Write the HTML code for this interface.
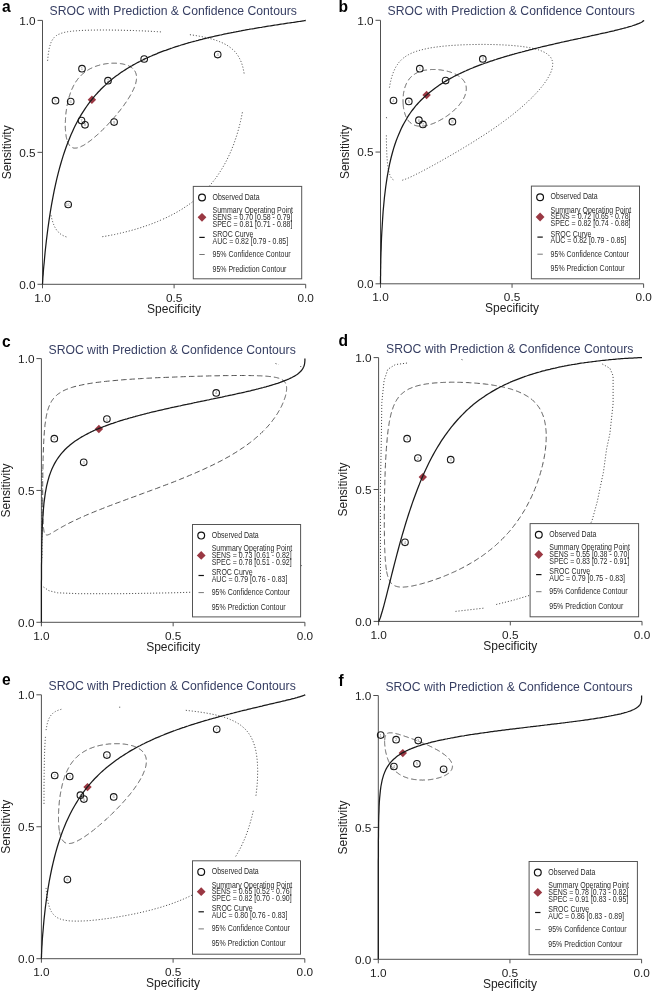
<!DOCTYPE html>
<html><head><meta charset="utf-8"><style>
html,body{margin:0;padding:0;background:#fff;width:652px;height:991px;overflow:hidden}
svg{display:block;will-change:transform} text{font-family:"Liberation Sans",sans-serif}
</style></head><body>
<svg width="652" height="991" viewBox="0 0 652 991">
<rect width="652" height="991" fill="#fff"/>
<g stroke="#505050" stroke-width="1" fill="none">
<path d="M42.5,20.4 L42.5,288.3 M37.5,284.3 L305.7,284.3 L305.7,288.3 M174.1,284.3 L174.1,288.3 M37.5,20.4 L42.5,20.4 M37.5,152.35 L42.5,152.35"/>
</g>
<g font-size="11.8" fill="#222">
<text x="35.6" y="24.7" text-anchor="end">1.0</text>
<text x="35.6" y="156.65" text-anchor="end">0.5</text>
<text x="35.6" y="288.6" text-anchor="end">0.0</text>
<text x="42.5" y="301.7" text-anchor="middle">1.0</text>
<text x="174.1" y="301.7" text-anchor="middle">0.5</text>
<text x="305.7" y="301.7" text-anchor="middle">0.0</text>
</g>
<text font-size="12" fill="#222" x="174.1" y="312.6" text-anchor="middle">Specificity</text>
<text font-size="12" fill="#222" transform="translate(11.100000000000001,152.35) rotate(-90)" text-anchor="middle">Sensitivity</text>
<text font-size="12.2" fill="#363e62" x="49.6" y="15.299999999999999">SROC with Prediction &amp; Confidence Contours</text>
<text font-size="15.6" font-weight="bold" fill="#000" x="1.9" y="11.8">a</text>
<path d="M47.6,60.8 L47.7,59.9 L47.8,59.2 L47.8,58.4 L47.9,57.6 L48.0,56.9 L48.1,56.2 L48.2,55.5 L48.2,54.8 L48.3,54.1 L48.4,53.4 L48.5,52.8 L48.6,52.1 L48.7,51.5 L48.8,50.9 L48.9,50.3 L49.0,49.8 L49.1,49.2 L49.2,48.6 L49.3,48.1 L49.4,47.6 L49.6,47.1 L49.7,46.6 L49.8,46.1 L50.0,45.6 L50.1,45.1 L50.2,44.7 L50.4,44.2 L50.5,43.8 L50.7,43.4 L50.8,42.9 L51.0,42.5 L51.2,42.1 L51.3,41.8 L51.5,41.4 L51.7,41.0 L51.9,40.7 L52.1,40.3 L52.3,40.0 L52.5,39.7 L52.7,39.3 L52.9,39.0 L53.2,38.7 L53.4,38.4 L53.6,38.1 L53.9,37.8 L54.1,37.6 L54.4,37.3 L54.7,37.0 L54.9,36.8 L55.2,36.5 L55.5,36.3 L55.8,36.1 L56.1,35.8 L56.4,35.6 L56.7,35.4 L57.1,35.2 L57.4,35.0 L57.8,34.8 L58.1,34.6 L58.5,34.4 L58.9,34.2 L59.3,34.1 L59.7,33.9 L60.1,33.7 L60.6,33.6 L61.0,33.4 L61.5,33.2 L61.9,33.1 L62.4,33.0 L62.9,32.8 L63.4,32.7 L63.9,32.5 L64.4,32.4 L65.0,32.3 L65.5,32.2 L66.1,32.1 L66.7,32.0 L67.3,31.8 L67.9,31.7 L68.6,31.6 L69.2,31.5 L69.9,31.4 L70.6,31.4 L71.3,31.3 L72.0,31.2 L72.7,31.1 L73.5,31.0 L74.2,31.0 L75.0,30.9 L75.8,30.8 L76.7,30.8 L77.5,30.7 L78.4,30.6 L79.2,30.6 L80.1,30.5 L81.1,30.5 L82.0,30.4 L83.0,30.4 L83.9,30.3 L84.9,30.3 L85.9,30.3 L87.0,30.2 L88.0,30.2 L89.1,30.2 L90.2,30.1 L91.3,30.1 L92.5,30.1 L93.6,30.1 L94.8,30.1 L96.0,30.0 L97.2,30.0 L98.5,30.0 L99.7,30.0 L101.0,30.0 L102.3,30.0 L103.6,30.0 L104.9,30.0 L106.3,30.0 L107.6,30.0 L109.0,30.0 L110.4,30.0 L111.9,30.1 L113.3,30.1 L114.7,30.1 L116.2,30.1 L117.7,30.1 L119.2,30.2 L120.7,30.2 L122.2,30.2 L123.7,30.3 L125.3,30.3 L126.8,30.4 L128.4,30.4 L130.0,30.4 L131.6,30.5 L133.2,30.5 L134.8,30.6 L136.4,30.7 L138.0,30.7 L139.6,30.8 L141.2,30.8 L142.9,30.9 L144.5,31.0 L146.1,31.1 L147.8,31.1 L149.4,31.2 L151.0,31.3 L152.7,31.4 L154.3,31.5 L156.0,31.6 L157.6,31.7 L159.2,31.8 L160.8,31.9 L162.5,32.0 M189.9,34.7 L191.3,34.9 L192.7,35.1 L194.1,35.3 L195.4,35.5 L196.7,35.7 L198.1,36.0 L199.3,36.2 L200.6,36.4 L201.9,36.7 L203.1,36.9 L204.3,37.2 L205.5,37.4 L206.7,37.7 L207.9,38.0 L209.0,38.3 L210.2,38.6 L211.3,38.9 L212.4,39.2 L213.4,39.5 L214.5,39.8 L215.5,40.1 L216.5,40.5 L217.5,40.8 L218.5,41.2 L219.4,41.6 L220.3,41.9 L221.3,42.3 L222.1,42.7 L223.0,43.1 L223.9,43.6 L224.7,44.0 L225.5,44.4 L226.3,44.9 L227.1,45.3 L227.9,45.8 L228.6,46.3 L229.3,46.8 L230.0,47.3 L230.7,47.8 L231.4,48.4 L232.0,48.9 L232.7,49.5 L233.3,50.0 L233.9,50.6 L234.5,51.2 L235.0,51.8 L235.6,52.5 L236.1,53.1 L236.6,53.7 L237.1,54.4 L237.6,55.1 L238.0,55.8 L238.5,56.5 L238.9,57.2 L239.3,58.0 L239.7,58.8 L240.1,59.5 L240.5,60.3 L240.8,61.1 L241.2,62.0 L241.5,62.8 L241.8,63.7 L242.1,64.6 L242.4,65.5 L242.6,66.4 L242.9,67.3 L243.1,68.3 L243.3,69.2 L243.5,70.2 L243.7,71.2 L243.9,72.2 L244.1,73.3 L244.2,74.3 M242.4,112.3 L242.1,113.8 L241.8,115.3 L241.5,116.9 L241.2,118.4 L240.8,120.0 L240.5,121.5 L240.1,123.1 L239.7,124.7 L239.3,126.3 L238.9,127.9 L238.5,129.4 L238.0,131.0 L237.6,132.6 L237.1,134.2 L236.6,135.8 L236.1,137.4 L235.5,139.0 L235.0,140.6 L234.4,142.2 L233.9,143.8 L233.3,145.4 L232.6,147.0 L232.0,148.6 L231.4,150.1 L230.7,151.7 L230.0,153.3 L229.3,154.8 L228.6,156.4 L227.8,157.9 L227.1,159.5 L226.3,161.0 L225.5,162.5 L224.7,164.0 L223.8,165.5 L223.0,167.0 L222.1,168.5 L221.2,170.0 L220.3,171.4 L219.4,172.9 L218.4,174.3 L217.5,175.7 L216.5,177.1 L215.5,178.5 L214.4,179.8 L213.4,181.2 L212.3,182.5 L211.2,183.9 L210.1,185.2 L209.0,186.5 L207.9,187.7 L206.7,189.0 L205.5,190.2 L204.3,191.5 L203.1,192.7 L201.9,193.9 L200.6,195.0 L199.3,196.2 L198.0,197.3 L196.7,198.4 L195.4,199.6 L194.0,200.6 L192.7,201.7 L191.3,202.8 L189.9,203.8 L188.5,204.8 L187.0,205.8 L185.6,206.8 L184.1,207.7 L182.7,208.7 L181.2,209.6 L179.7,210.5 L178.2,211.4 L176.6,212.3 L175.1,213.2 L173.5,214.0 L172.0,214.8 L170.4,215.6 L168.8,216.4 L167.2,217.2 L165.6,218.0 L164.0,218.7 L162.4,219.4 M51.0,215.3 L51.2,216.1 L51.3,216.8 L51.5,217.6 L51.7,218.4 L51.9,219.1 L52.1,219.8 L52.3,220.5 L52.5,221.2 L52.7,221.9 L52.9,222.5 L53.1,223.2 L53.4,223.8 L53.6,224.4 L53.9,225.0 L54.1,225.6 L54.4,226.1 L54.6,226.7 L54.9,227.2 L55.2,227.7 L55.5,228.3 L55.8,228.7 L56.1,229.2 L56.4,229.7 L56.7,230.2 L57.1,230.6 L57.4,231.0 L57.8,231.4 L58.1,231.8 L58.5,232.2 L58.9,232.6 L59.3,233.0 L59.7,233.3 L60.1,233.7 L60.5,234.0 L61.0,234.3 L61.4,234.6 L61.9,234.9 L62.4,235.2 L62.9,235.5 L63.4,235.7 L63.9,236.0 L64.4,236.2 L65.0,236.4 L65.5,236.6 L66.1,236.8 L66.7,237.0 L67.3,237.2 L67.9,237.4 M102.3,236.7 L103.6,236.5 L104.9,236.3 L106.2,236.1 L107.6,235.8 L109.0,235.6 L110.4,235.3 L111.8,235.0 L113.3,234.8 L114.7,234.5 L116.2,234.1 L117.6,233.8 L119.1,233.5 L120.6,233.1 L122.2,232.8 L123.7,232.4 L125.2,232.0 L126.8,231.6 L128.4,231.2 L129.9,230.8 L131.5,230.4 L133.1,229.9 L134.7,229.5 L136.3,229.0 L138.0,228.5 L139.6,228.0 L141.2,227.5 L142.8,226.9 L144.5,226.4 L146.1,225.8 L147.7,225.3 L149.4,224.7 L151.0,224.1 L152.6,223.5 L154.3,222.8 L155.9,222.2 L157.6,221.5 L159.2,220.8 L160.8,220.1 L162.4,219.4" fill="none" stroke="#444" stroke-width="0.95" stroke-dasharray="1.1 1.9" />
<path d="M66.9,139.6 L66.8,139.3 L66.7,139.0 L66.6,138.7 L66.6,138.4 L66.5,138.1 L66.4,137.8 L66.4,137.4 L66.3,137.1 L66.2,136.8 L66.2,136.4 L66.1,136.1 L66.1,135.7 L66.0,135.4 L65.9,135.0 L65.9,134.7 L65.9,134.3 L65.8,133.9 L65.8,133.6 L65.7,133.2 L65.7,132.8 L65.6,132.4 L65.6,132.1 L65.6,131.7 L65.5,131.3 L65.5,130.9 L65.5,130.5 L65.5,130.1 L65.4,129.7 L65.4,129.3 L65.4,128.9 L65.4,128.4 L65.4,128.0 L65.3,127.6 L65.3,127.2 L65.3,126.8 L65.3,126.3 L65.3,125.9 L65.3,125.5 L65.3,125.0 L65.3,124.6 L65.3,124.1 L65.3,123.7 L65.3,123.3 L65.3,122.8 L65.3,122.4 L65.4,121.9 L65.4,121.5 L65.4,121.0 L65.4,120.5 L65.4,120.1 L65.5,119.6 L65.5,119.2 L65.5,118.7 L65.5,118.2 L65.6,117.8 L65.6,117.3 L65.6,116.8 L65.7,116.4 L65.7,115.9 L65.8,115.4 L65.8,115.0 L65.8,114.5 L65.9,114.0 L65.9,113.5 L66.0,113.1 L66.0,112.6 L66.1,112.1 L66.2,111.6 L66.2,111.2 L66.3,110.7 L66.4,110.2 L66.4,109.7 L66.5,109.3 L66.6,108.8 L66.6,108.3 L66.7,107.8 L66.8,107.4 L66.9,106.9 L67.0,106.4 L67.0,105.9 L67.1,105.5 L67.2,105.0 L67.3,104.5 L67.4,104.1 L67.5,103.6 L67.6,103.1 L67.7,102.7 L67.8,102.2 L67.9,101.7 L68.0,101.3 L68.1,100.8 L68.2,100.3 L68.3,99.9 L68.5,99.4 L68.6,99.0 L68.7,98.5 L68.8,98.0 L69.0,97.6 L69.1,97.1 L69.2,96.7 L69.3,96.2 L69.5,95.8 L69.6,95.4 L69.8,94.9 L69.9,94.5 L70.1,94.0 L70.2,93.6 L70.4,93.2 L70.5,92.7 L70.7,92.3 L70.8,91.9 L71.0,91.5 L71.2,91.0 L71.3,90.6 L71.5,90.2 L71.7,89.8 L71.8,89.4 L72.0,89.0 L72.2,88.6 L72.4,88.2 L72.6,87.8 L72.8,87.4 L72.9,87.0 L73.1,86.6 L73.3,86.2 L73.5,85.8 L73.7,85.4 L73.9,85.0 L74.1,84.7 L74.4,84.3 L74.6,83.9 L74.8,83.5 L75.0,83.2 L75.2,82.8 L75.5,82.5 L75.7,82.1 L75.9,81.7 L76.1,81.4 L76.4,81.1 L76.6,80.7 L76.9,80.4 L77.1,80.0 L77.3,79.7 L77.6,79.4 L77.9,79.0 L78.1,78.7 L78.4,78.4 L78.6,78.1 L78.9,77.8 L79.2,77.5 L79.4,77.1 L79.7,76.8 L80.0,76.5 L80.3,76.2 L80.5,76.0 L80.8,75.7 L81.1,75.4 L81.4,75.1 L81.7,74.8 L82.0,74.5 L82.3,74.3 L82.6,74.0 L82.9,73.7 L83.2,73.5 L83.5,73.2 L83.8,72.9 L84.1,72.7 L84.5,72.4 L84.8,72.2 L85.1,72.0 L85.4,71.7 L85.8,71.5 L86.1,71.2 L86.4,71.0 L86.8,70.8 L87.1,70.6 L87.4,70.4 L87.8,70.1 L88.1,69.9 L88.5,69.7 L88.8,69.5 L89.2,69.3 L89.5,69.1 L89.9,68.9 L90.3,68.7 L90.6,68.5 L91.0,68.4 L91.4,68.2 L91.7,68.0 L92.1,67.8 L92.5,67.6 L92.8,67.5 L93.2,67.3 L93.6,67.2 L94.0,67.0 L94.4,66.8 L94.8,66.7 L95.1,66.5 L95.5,66.4 L95.9,66.3 L96.3,66.1 L96.7,66.0 L97.1,65.8 L97.5,65.7 L97.9,65.6 L98.3,65.5 L98.7,65.4 L99.1,65.2 L99.5,65.1 L99.9,65.0 L100.3,64.9 L100.7,64.8 L101.1,64.7 L101.6,64.6 L102.0,64.5 L102.4,64.4 L102.8,64.3 L103.2,64.3 L103.6,64.2 L104.0,64.1 L104.4,64.0 L104.9,64.0 L105.3,63.9 L105.7,63.8 L106.1,63.8 L106.5,63.7 L106.9,63.6 L107.4,63.6 L107.8,63.5 L108.2,63.5 L108.6,63.5 L109.0,63.4 L109.4,63.4 L109.8,63.4 L110.3,63.3 L110.7,63.3 L111.1,63.3 L111.5,63.2 L111.9,63.2 L112.3,63.2 L112.7,63.2 L113.1,63.2 L113.5,63.2 L113.9,63.2 L114.3,63.2 L114.7,63.2 L115.1,63.2 L115.5,63.2 L115.9,63.2 L116.3,63.2 L116.7,63.3 L117.1,63.3 L117.5,63.3 L117.9,63.3 L118.3,63.4 L118.7,63.4 L119.0,63.4 L119.4,63.5 L119.8,63.5 L120.2,63.6 L120.5,63.6 L120.9,63.7 L121.3,63.7 L121.6,63.8 L122.0,63.9 L122.4,63.9 L122.7,64.0 L123.1,64.1 L123.4,64.2 L123.8,64.2 L124.1,64.3 L124.4,64.4 L124.8,64.5 L125.1,64.6 L125.4,64.7 L125.8,64.8 L126.1,64.9 L126.4,65.0 L126.7,65.1 L127.0,65.2 L127.3,65.3 L127.6,65.4 L127.9,65.6 L128.2,65.7 L128.5,65.8 L128.8,65.9 L129.1,66.1 L129.3,66.2 L129.6,66.4 L129.9,66.5 L130.1,66.6 L130.4,66.8 L130.6,67.0 L130.9,67.1 L131.1,67.3 L131.4,67.4 L131.6,67.6 L131.8,67.8 L132.1,67.9 L132.3,68.1 L132.5,68.3 L132.7,68.5 L132.9,68.7 L133.1,68.9 L133.3,69.1 L133.5,69.3 L133.7,69.5 L133.8,69.7 L134.0,69.9 L134.2,70.1 L134.3,70.3 L134.5,70.5 L134.6,70.7 L134.8,71.0 L134.9,71.2 L135.1,71.4 L135.2,71.7 L135.3,71.9 L135.4,72.1 L135.5,72.4 L135.6,72.6 L135.7,72.9 L135.8,73.1 L135.9,73.4 L136.0,73.7 L136.1,73.9 L136.1,74.2 L136.2,74.5 L136.3,74.7 L136.3,75.0 L136.4,75.3 L136.4,75.6 L136.5,75.9 L136.5,76.2 L136.5,76.5 L136.5,76.8 L136.5,77.1 L136.5,77.4 L136.5,77.7 L136.5,78.0 L136.5,78.3 L136.5,78.6 L136.5,79.0 L136.5,79.3 L136.4,79.6 L136.4,79.9 L136.3,80.3 L136.3,80.6 L136.2,81.0 L136.2,81.3 L136.1,81.7 L136.0,82.0 L135.9,82.4 L135.8,82.7 L135.8,83.1 L135.7,83.5 L135.5,83.8 L135.4,84.2 L135.3,84.6 L135.2,84.9 L135.1,85.3 L134.9,85.7 L134.8,86.1 L134.7,86.5 L134.5,86.9 L134.4,87.3 L134.2,87.7 L134.0,88.1 L133.9,88.5 L133.7,88.9 L133.5,89.3 L133.3,89.7 L133.1,90.1 L132.9,90.5 L132.7,90.9 L132.5,91.4 L132.3,91.8 L132.1,92.2 L131.9,92.6 L131.6,93.1 L131.4,93.5 L131.2,93.9 L130.9,94.4 L130.7,94.8 L130.4,95.2 L130.2,95.7 L129.9,96.1 L129.6,96.6 L129.4,97.0 L129.1,97.5 L128.8,97.9 L128.5,98.4 L128.2,98.8 L128.0,99.3 L127.7,99.8 L127.4,100.2 L127.1,100.7 L126.7,101.1 L126.4,101.6 L126.1,102.1 L125.8,102.5 L125.5,103.0 L125.1,103.5 L124.8,103.9 L124.5,104.4 L124.1,104.9 L123.8,105.4 L123.5,105.8 L123.1,106.3 L122.8,106.8 L122.4,107.2 L122.1,107.7 L121.7,108.2 L121.3,108.7 L121.0,109.1 L120.6,109.6 L120.2,110.1 L119.9,110.6 L119.5,111.0 L119.1,111.5 L118.7,112.0 L118.3,112.5 L117.9,112.9 L117.6,113.4 L117.2,113.9 L116.8,114.4 L116.4,114.8 L116.0,115.3 L115.6,115.8 L115.2,116.3 L114.8,116.7 L114.4,117.2 L114.0,117.7 L113.6,118.1 L113.2,118.6 L112.8,119.1 L112.4,119.5 L112.0,120.0 L111.5,120.4 L111.1,120.9 L110.7,121.3 L110.3,121.8 L109.9,122.2 L109.5,122.7 L109.1,123.1 L108.7,123.6 L108.2,124.0 L107.8,124.5 L107.4,124.9 L107.0,125.3 L106.6,125.8 L106.2,126.2 L105.7,126.6 L105.3,127.1 L104.9,127.5 L104.5,127.9 L104.1,128.3 L103.7,128.7 L103.3,129.2 L102.8,129.6 L102.4,130.0 L102.0,130.4 L101.6,130.8 L101.2,131.2 L100.8,131.6 L100.4,132.0 L100.0,132.3 L99.6,132.7 L99.2,133.1 L98.8,133.5 L98.4,133.8 L98.0,134.2 L97.6,134.6 L97.2,134.9 L96.8,135.3 L96.4,135.6 L96.0,136.0 L95.6,136.3 L95.2,136.7 L94.8,137.0 L94.4,137.3 L94.0,137.7 L93.7,138.0 L93.3,138.3 L92.9,138.6 L92.5,138.9 L92.2,139.2 L91.8,139.5 L91.4,139.8 L91.0,140.1 L90.7,140.4 L90.3,140.7 L89.9,141.0 L89.6,141.2 L89.2,141.5 L88.9,141.8 L88.5,142.0 L88.2,142.3 L87.8,142.5 L87.5,142.8 L87.1,143.0 L86.8,143.2 L86.5,143.5 L86.1,143.7 L85.8,143.9 L85.5,144.1 L85.1,144.3 L84.8,144.5 L84.5,144.7 L84.2,144.9 L83.9,145.1 L83.6,145.3 L83.2,145.5 L82.9,145.6 L82.6,145.8 L82.3,145.9 L82.0,146.1 L81.7,146.2 L81.4,146.4 L81.2,146.5 L80.9,146.7 L80.6,146.8 L80.3,146.9 L80.0,147.0 L79.7,147.1 L79.5,147.2 L79.2,147.3 L78.9,147.4 L78.7,147.5 L78.4,147.6 L78.1,147.7 L77.9,147.7 L77.6,147.8 L77.4,147.8 L77.1,147.9 L76.9,147.9 L76.7,148.0 L76.4,148.0 L76.2,148.1 L75.9,148.1 L75.7,148.1 L75.5,148.1 L75.3,148.1 L75.0,148.1 L74.8,148.1 L74.6,148.1 L74.4,148.1 L74.2,148.1 L74.0,148.0 L73.8,148.0 L73.6,148.0 L73.4,147.9 L73.2,147.9 L73.0,147.8 L72.8,147.7 L72.6,147.7 L72.4,147.6 L72.2,147.5 L72.0,147.4 L71.9,147.3 L71.7,147.3 L71.5,147.2 L71.3,147.0 L71.2,146.9 L71.0,146.8 L70.9,146.7 L70.7,146.6 L70.5,146.4 L70.4,146.3 L70.2,146.1 L70.1,146.0 L69.9,145.8 L69.8,145.7 L69.6,145.5 L69.5,145.3 L69.4,145.1 L69.2,145.0 L69.1,144.8 L69.0,144.6 L68.8,144.4 L68.7,144.2 L68.6,144.0 L68.5,143.7 L68.4,143.5 L68.2,143.3 L68.1,143.1 L68.0,142.8 L67.9,142.6 L67.8,142.3 L67.7,142.1 L67.6,141.8 L67.5,141.6 L67.4,141.3 L67.3,141.0 L67.2,140.8 L67.1,140.5 L67.0,140.2 L67.0,139.9 L66.9,139.6Z" fill="none" stroke="#555" stroke-width="1" stroke-dasharray="5.5 3" />
<circle cx="82.0" cy="68.7" r="3.3" fill="#fff" fill-opacity="0" stroke="#1a1a1a" stroke-width="1.1"/>
<text x="82.0" y="70.2" font-size="4.2" fill="#888" text-anchor="middle">1</text>
<circle cx="108" cy="80.7" r="3.3" fill="#fff" fill-opacity="0" stroke="#1a1a1a" stroke-width="1.1"/>
<text x="108" y="82.2" font-size="4.2" fill="#888" text-anchor="middle">2</text>
<circle cx="144.2" cy="59.0" r="3.3" fill="#fff" fill-opacity="0" stroke="#1a1a1a" stroke-width="1.1"/>
<text x="144.2" y="60.5" font-size="4.2" fill="#888" text-anchor="middle">3</text>
<circle cx="217.7" cy="54.6" r="3.3" fill="#fff" fill-opacity="0" stroke="#1a1a1a" stroke-width="1.1"/>
<text x="217.7" y="56.1" font-size="4.2" fill="#888" text-anchor="middle">4</text>
<circle cx="55.5" cy="100.7" r="3.3" fill="#fff" fill-opacity="0" stroke="#1a1a1a" stroke-width="1.1"/>
<text x="55.5" y="102.2" font-size="4.2" fill="#888" text-anchor="middle">5</text>
<circle cx="70.7" cy="101.5" r="3.3" fill="#fff" fill-opacity="0" stroke="#1a1a1a" stroke-width="1.1"/>
<text x="70.7" y="103.0" font-size="4.2" fill="#888" text-anchor="middle">6</text>
<circle cx="81.5" cy="120.6" r="3.3" fill="#fff" fill-opacity="0" stroke="#1a1a1a" stroke-width="1.1"/>
<text x="81.5" y="122.1" font-size="4.2" fill="#888" text-anchor="middle">7</text>
<circle cx="85" cy="124.8" r="3.3" fill="#fff" fill-opacity="0" stroke="#1a1a1a" stroke-width="1.1"/>
<text x="85" y="126.3" font-size="4.2" fill="#888" text-anchor="middle">8</text>
<circle cx="114.1" cy="122.1" r="3.3" fill="#fff" fill-opacity="0" stroke="#1a1a1a" stroke-width="1.1"/>
<text x="114.1" y="123.6" font-size="4.2" fill="#888" text-anchor="middle">9</text>
<circle cx="68.2" cy="204.5" r="3.3" fill="#fff" fill-opacity="0" stroke="#1a1a1a" stroke-width="1.1"/>
<text x="68.2" y="206.0" font-size="4.2" fill="#888" text-anchor="middle">10</text>
<path d="M91.9,95.5 L96.10000000000001,99.7 L91.9,103.9 L87.7,99.7Z" fill="#9a3843"/>
<path d="M42.5,284.3 L42.5,284.3 L42.5,284.3 L42.5,284.3 L42.5,284.3 L42.5,284.3 L42.5,284.3 L42.5,284.3 L42.5,284.3 L42.5,284.3 L42.5,284.3 L42.5,284.3 L42.5,284.3 L42.5,284.3 L42.5,284.3 L42.5,284.3 L42.5,284.3 L42.5,284.3 L42.5,284.3 L42.5,284.3 L42.5,284.3 L42.5,284.3 L42.5,284.3 L42.5,284.3 L42.5,284.3 L42.5,284.3 L42.5,284.3 L42.5,284.3 L42.5,284.3 L42.5,284.3 L42.5,284.3 L42.5,284.3 L42.5,284.3 L42.5,284.3 L42.5,284.3 L42.5,284.3 L42.5,284.3 L42.5,284.3 L42.5,284.3 L42.5,284.3 L42.5,284.3 L42.5,284.3 L42.5,284.3 L42.5,284.3 L42.5,284.3 L42.5,284.3 L42.5,284.3 L42.5,284.3 L42.5,284.3 L42.5,284.3 L42.5,284.3 L42.5,284.3 L42.5,284.3 L42.5,284.3 L42.5,284.3 L42.5,284.3 L42.5,284.3 L42.5,284.3 L42.5,284.3 L42.5,284.3 L42.5,284.3 L42.5,284.3 L42.5,284.3 L42.5,284.3 L42.5,284.3 L42.5,284.3 L42.5,284.3 L42.5,284.3 L42.5,284.3 L42.5,284.3 L42.5,284.3 L42.5,284.3 L42.5,284.3 L42.5,284.3 L42.5,284.3 L42.5,284.3 L42.5,284.3 L42.5,284.3 L42.5,284.3 L42.5,284.3 L42.5,284.3 L42.5,284.3 L42.5,284.3 L42.5,284.3 L42.5,284.3 L42.5,284.3 L42.5,284.3 L42.5,284.3 L42.5,284.2 L42.5,284.2 L42.5,284.2 L42.5,284.2 L42.5,284.2 L42.5,284.1 L42.5,284.1 L42.5,284.1 L42.5,284.0 L42.5,283.9 L42.5,283.9 L42.5,283.8 L42.5,283.6 L42.5,283.5 L42.6,283.3 L42.6,283.1 L42.6,282.8 L42.6,282.4 L42.6,282.0 L42.7,281.4 L42.7,280.8 L42.8,279.9 L42.8,278.9 L42.9,277.7 L43.0,276.2 L43.2,274.4 L43.3,272.2 L43.5,269.5 L43.8,266.3 L44.2,262.4 L44.6,257.8 L45.1,252.3 L45.1,252.3 L46.4,240.5 L47.7,230.0 L49.0,220.7 L50.3,212.2 L51.6,204.4 L52.9,197.3 L54.2,190.7 L55.5,184.6 L56.8,178.9 L58.1,173.6 L59.4,168.7 L60.7,164.0 L62.0,159.6 L63.3,155.4 L64.6,151.5 L65.9,147.8 L67.2,144.2 L68.5,140.9 L69.8,137.7 L71.1,134.6 L72.4,131.7 L73.6,128.9 L74.9,126.3 L76.2,123.7 L77.5,121.2 L78.8,118.9 L80.1,116.6 L81.4,114.4 L82.7,112.3 L84.0,110.3 L85.3,108.4 L86.6,106.5 L87.9,104.7 L89.2,102.9 L90.5,101.2 L91.8,99.6 L93.1,98.0 L94.4,96.4 L95.7,94.9 L97.0,93.5 L98.3,92.0 L99.6,90.7 L100.9,89.3 L102.2,88.0 L103.5,86.8 L104.8,85.6 L106.1,84.4 L107.3,83.2 L108.6,82.1 L109.9,81.0 L111.2,79.9 L112.5,78.8 L113.8,77.8 L115.1,76.8 L116.4,75.8 L117.7,74.9 L119.0,73.9 L120.3,73.0 L121.6,72.1 L122.9,71.3 L124.2,70.4 L125.5,69.6 L126.8,68.8 L128.1,68.0 L129.4,67.2 L130.7,66.4 L132.0,65.7 L133.3,64.9 L134.6,64.2 L135.9,63.5 L137.2,62.8 L138.5,62.1 L139.8,61.5 L141.0,60.8 L142.3,60.2 L143.6,59.5 L144.9,58.9 L146.2,58.3 L147.5,57.7 L148.8,57.1 L150.1,56.5 L151.4,56.0 L152.7,55.4 L154.0,54.8 L155.3,54.3 L156.6,53.8 L157.9,53.2 L159.2,52.7 L160.5,52.2 L161.8,51.7 L163.1,51.2 L164.4,50.7 L165.7,50.3 L167.0,49.8 L168.3,49.3 L169.6,48.9 L170.9,48.4 L172.2,48.0 L173.5,47.5 L174.7,47.1 L176.0,46.7 L177.3,46.3 L178.6,45.9 L179.9,45.5 L181.2,45.0 L182.5,44.7 L183.8,44.3 L185.1,43.9 L186.4,43.5 L187.7,43.1 L189.0,42.7 L190.3,42.4 L191.6,42.0 L192.9,41.7 L194.2,41.3 L195.5,41.0 L196.8,40.6 L198.1,40.3 L199.4,39.9 L200.7,39.6 L202.0,39.3 L203.3,38.9 L204.6,38.6 L205.9,38.3 L207.2,38.0 L208.4,37.7 L209.7,37.4 L211.0,37.1 L212.3,36.8 L213.6,36.5 L214.9,36.2 L216.2,35.9 L217.5,35.6 L218.8,35.3 L220.1,35.0 L221.4,34.8 L222.7,34.5 L224.0,34.2 L225.3,33.9 L226.6,33.7 L227.9,33.4 L229.2,33.1 L230.5,32.9 L231.8,32.6 L233.1,32.4 L234.4,32.1 L235.7,31.9 L237.0,31.6 L238.3,31.4 L239.6,31.1 L240.9,30.9 L242.1,30.6 L243.4,30.4 L244.7,30.2 L246.0,29.9 L247.3,29.7 L248.6,29.5 L249.9,29.2 L251.2,29.0 L252.5,28.8 L253.8,28.6 L255.1,28.3 L256.4,28.1 L257.7,27.9 L259.0,27.7 L260.3,27.5 L261.6,27.3 L262.9,27.0 L264.2,26.8 L265.5,26.6 L266.8,26.4 L268.1,26.2 L269.4,26.0 L270.7,25.8 L272.0,25.6 L273.3,25.4 L274.6,25.2 L275.8,25.0 L277.1,24.8 L278.4,24.6 L279.7,24.4 L281.0,24.2 L282.3,24.0 L283.6,23.8 L284.9,23.6 L286.2,23.4 L287.5,23.2 L288.8,23.0 L290.1,22.8 L291.4,22.6 L292.7,22.5 L294.0,22.3 L295.3,22.1 L296.6,21.9 L297.9,21.7 L299.2,21.5 L300.5,21.3 L301.8,21.1 L303.1,20.9 L303.1,20.9 L303.7,20.8 L304.1,20.7 L304.4,20.6 L304.7,20.6 L304.9,20.6 L305.1,20.5 L305.2,20.5 L305.3,20.5 L305.4,20.5 L305.4,20.5 L305.5,20.4 L305.5,20.4 L305.6,20.4 L305.6,20.4 L305.6,20.4 L305.6,20.4 L305.7,20.4 L305.7,20.4 L305.7,20.4 L305.7,20.4 L305.7,20.4 L305.7,20.4 L305.7,20.4 L305.7,20.4 L305.7,20.4 L305.7,20.4 L305.7,20.4 L305.7,20.4 L305.7,20.4 L305.7,20.4 L305.7,20.4 L305.7,20.4 L305.7,20.4 L305.7,20.4 L305.7,20.4 L305.7,20.4 L305.7,20.4 L305.7,20.4 L305.7,20.4 L305.7,20.4 L305.7,20.4 L305.7,20.4 L305.7,20.4 L305.7,20.4 L305.7,20.4 L305.7,20.4 L305.7,20.4 L305.7,20.4 L305.7,20.4 L305.7,20.4 L305.7,20.4 L305.7,20.4 L305.7,20.4 L305.7,20.4 L305.7,20.4 L305.7,20.4 L305.7,20.4 L305.7,20.4 L305.7,20.4 L305.7,20.4 L305.7,20.4 L305.7,20.4 L305.7,20.4 L305.7,20.4 L305.7,20.4 L305.7,20.4 L305.7,20.4 L305.7,20.4 L305.7,20.4 L305.7,20.4 L305.7,20.4 L305.7,20.4 L305.7,20.4 L305.7,20.4 L305.7,20.4 L305.7,20.4 L305.7,20.4 L305.7,20.4 L305.7,20.4 L305.7,20.4 L305.7,20.4 L305.7,20.4 L305.7,20.4 L305.7,20.4 L305.7,20.4 L305.7,20.4 L305.7,20.4 L305.7,20.4 L305.7,20.4 L305.7,20.4 L305.7,20.4 L305.7,20.4 L305.7,20.4 L305.7,20.4 L305.7,20.4 L305.7,20.4 L305.7,20.4 L305.7,20.4 L305.7,20.4 L305.7,20.4 L305.7,20.4 L305.7,20.4 L305.7,20.4 L305.7,20.4 L305.7,20.4 L305.7,20.4 L305.7,20.4 L305.7,20.4 L305.7,20.4 L305.7,20.4 L305.7,20.4 L305.7,20.4 L305.7,20.4 L305.7,20.4 L305.7,20.4 L305.7,20.4 L305.7,20.4 L305.7,20.4 L305.7,20.4" fill="none" stroke="#1a1a1a" stroke-width="1.25"/>
<rect x="193.3" y="186.4" width="108.39999999999998" height="92.4" fill="#fff" stroke="#555" stroke-width="1"/>
<g font-size="8.2" fill="#2a2a2a">
<text x="212.5" y="199.70000000000002" textLength="47.08" lengthAdjust="spacingAndGlyphs">Observed Data</text>
<text x="212.5" y="213.1" textLength="80.53" lengthAdjust="spacingAndGlyphs">Summary Operating Point</text>
<text x="212.5" y="219.60000000000002" textLength="79.96" lengthAdjust="spacingAndGlyphs">SENS = 0.70 [0.58 - 0.79]</text>
<text x="212.5" y="226.7" textLength="79.96" lengthAdjust="spacingAndGlyphs">SPEC = 0.81 [0.71 - 0.88]</text>
<text x="212.5" y="236.9" textLength="40.84" lengthAdjust="spacingAndGlyphs">SROC Curve</text>
<text x="212.5" y="243.5" textLength="75.68" lengthAdjust="spacingAndGlyphs">AUC = 0.82 [0.79 - 0.85]</text>
<text x="212.5" y="257.0" textLength="78.21" lengthAdjust="spacingAndGlyphs">95% Confidence Contour</text>
<text x="212.5" y="271.5" textLength="73.93" lengthAdjust="spacingAndGlyphs">95% Prediction Contour</text>
</g>
<circle cx="202.0" cy="197.5" r="3.4" fill="none" stroke="#111" stroke-width="1.2"/>
<path d="M202.0,212.9 L206.4,217.3 L202.0,221.7 L197.6,217.3Z" fill="#9a3843"/>
<path d="M199.3,237.4 L204.7,237.4" stroke="#111" stroke-width="1.2"/>
<path d="M199.3,254.5 L204.7,254.5" stroke="#666" stroke-width="0.9"/>
<g stroke="#505050" stroke-width="1" fill="none">
<path d="M380.5,20.3 L380.5,287.8 M375.5,283.8 L643.6,283.8 L643.6,287.8 M512.05,283.8 L512.05,287.8 M375.5,20.3 L380.5,20.3 M375.5,152.05 L380.5,152.05"/>
</g>
<g font-size="11.8" fill="#222">
<text x="373.6" y="24.6" text-anchor="end">1.0</text>
<text x="373.6" y="156.35000000000002" text-anchor="end">0.5</text>
<text x="373.6" y="288.1" text-anchor="end">0.0</text>
<text x="380.5" y="301.2" text-anchor="middle">1.0</text>
<text x="512.05" y="301.2" text-anchor="middle">0.5</text>
<text x="643.6" y="301.2" text-anchor="middle">0.0</text>
</g>
<text font-size="12" fill="#222" x="512.05" y="312.1" text-anchor="middle">Specificity</text>
<text font-size="12" fill="#222" transform="translate(349.1,152.05) rotate(-90)" text-anchor="middle">Sensitivity</text>
<text font-size="12.2" fill="#363e62" x="387.6" y="15.200000000000001">SROC with Prediction &amp; Confidence Contours</text>
<text font-size="15.6" font-weight="bold" fill="#000" x="338.6" y="11.8">b</text>
<path d="M389.4,87.6 L389.6,86.9 L389.7,86.2 L389.8,85.5 L389.9,84.8 L390.1,84.1 L390.2,83.4 L390.4,82.7 L390.5,82.1 L390.6,81.4 L390.8,80.7 L391.0,80.1 L391.1,79.4 L391.3,78.8 L391.4,78.2 L391.6,77.5 L391.8,76.9 L392.0,76.3 L392.2,75.7 L392.4,75.1 L392.6,74.5 L392.8,73.9 L393.0,73.4 L393.2,72.8 L393.4,72.2 L393.6,71.7 L393.8,71.1 L394.1,70.6 L394.3,70.0 L394.6,69.5 L394.8,69.0 L395.1,68.5 L395.3,67.9 L395.6,67.4 L395.9,66.9 L396.2,66.5 L396.4,66.0 L396.7,65.5 L397.0,65.0 L397.4,64.6 L397.7,64.1 L398.0,63.6 L398.3,63.2 L398.7,62.8 L399.0,62.3 L399.4,61.9 L399.8,61.5 L400.1,61.1 L400.5,60.7 L400.9,60.3 L401.3,59.9 L401.7,59.5 L402.1,59.1 L402.6,58.7 L403.0,58.4 L403.5,58.0 L403.9,57.6 L404.4,57.3 L404.9,57.0 L405.3,56.6 L405.8,56.3 L406.4,55.9 L406.9,55.6 L407.4,55.3 L408.0,55.0 L408.5,54.7 L409.1,54.4 L409.6,54.1 L410.2,53.8 L410.8,53.5 L411.5,53.2 L412.1,53.0 L412.7,52.7 L413.4,52.4 L414.0,52.2 L414.7,51.9 L415.4,51.7 L416.1,51.4 L416.8,51.2 L417.5,51.0 L418.3,50.7 L419.0,50.5 L419.8,50.3 L420.6,50.1 L421.3,49.9 L422.1,49.7 L423.0,49.5 L423.8,49.3 L424.6,49.1 L425.5,48.9 L426.4,48.7 L427.2,48.5 L428.1,48.3 L429.0,48.2 L430.0,48.0 L430.9,47.8 L431.9,47.7 L432.8,47.5 L433.8,47.4 L434.8,47.2 L435.8,47.1 L436.8,47.0 L437.8,46.8 L438.8,46.7 L439.9,46.6 L440.9,46.5 L442.0,46.3 L443.1,46.2 L444.2,46.1 L445.3,46.0 L446.4,45.9 L447.5,45.8 L448.6,45.7 L449.8,45.6 L450.9,45.5 L452.1,45.4 L453.3,45.4 L454.4,45.3 L455.6,45.2 L456.8,45.1 L458.0,45.1 L459.2,45.0 L460.4,44.9 L461.6,44.9 L462.9,44.8 L464.1,44.8 L465.3,44.7 L466.6,44.7 L467.8,44.6 L469.0,44.6 L470.3,44.6 L471.5,44.5 L472.8,44.5 L474.0,44.5 L475.3,44.5 L476.5,44.5 L477.8,44.4 L479.0,44.4 L480.3,44.4 L481.5,44.4 L482.8,44.4 L484.0,44.4 L485.3,44.4 L486.5,44.4 L487.8,44.5 L489.0,44.5 L490.2,44.5 L491.5,44.5 L492.7,44.5 L493.9,44.6 L495.1,44.6 L496.3,44.6 L497.5,44.7 L498.7,44.7 L499.9,44.8 L501.0,44.8 L502.2,44.9 L503.4,44.9 L504.5,45.0 L505.6,45.1 L506.8,45.1 L507.9,45.2 L509.0,45.3 L510.1,45.3 L511.2,45.4 L512.2,45.5 L513.3,45.6 L514.4,45.7 L515.4,45.8 L516.4,45.9 L517.4,46.0 L518.4,46.1 L519.4,46.2 L520.4,46.3 L521.4,46.4 L522.3,46.6 L523.3,46.7 L524.2,46.8 L525.1,46.9 L526.0,47.1 L526.9,47.2 L527.7,47.4 L528.6,47.5 L529.4,47.7 L530.3,47.8 L531.1,48.0 L531.9,48.2 L532.6,48.3 L533.4,48.5 L534.2,48.7 L534.9,48.9 L535.6,49.0 L536.3,49.2 L537.0,49.4 L537.7,49.6 L538.4,49.8 L539.0,50.1 L539.6,50.3 L540.3,50.5 L540.9,50.7 L541.4,50.9 L542.0,51.2 L542.6,51.4 L543.1,51.6 L543.6,51.9 L544.1,52.1 L544.6,52.4 L545.1,52.7 L545.6,52.9 L546.0,53.2 L546.5,53.5 L546.9,53.8 L547.3,54.1 L547.7,54.4 L548.1,54.7 L548.4,55.0 L548.8,55.3 L549.1,55.6 L549.4,55.9 L549.7,56.2 L550.0,56.6 L550.3,56.9 L550.5,57.3 L550.8,57.6 L551.0,58.0 L551.2,58.3 L551.4,58.7 L551.6,59.1 L551.8,59.4 L551.9,59.8 L552.1,60.2 L552.2,60.6 L552.3,61.0 L552.4,61.4 L552.5,61.9 L552.6,62.3 L552.6,62.7 L552.7,63.2 L552.7,63.6 L552.7,64.0 L552.7,64.5 L552.7,65.0 L552.6,65.4 L552.6,65.9 L552.5,66.4 L552.5,66.9 L552.4,67.4 L552.3,67.9 L552.1,68.4 L552.0,68.9 L551.9,69.4 L551.7,70.0 L551.5,70.5 L551.3,71.0 L551.1,71.6 L550.9,72.1 L550.7,72.7 L550.4,73.3 L550.1,73.9 L549.9,74.4 L549.6,75.0 L549.3,75.6 L548.9,76.2 L548.6,76.8 L548.2,77.5 L547.9,78.1 L547.5,78.7 L547.1,79.4 L546.7,80.0 L546.2,80.7 L545.8,81.3 L545.3,82.0 L544.9,82.6 L544.4,83.3 L543.9,84.0 L543.4,84.7 L542.8,85.4 L542.3,86.1 L541.7,86.8 L541.1,87.5 L540.5,88.2 L539.9,89.0 L539.3,89.7 L538.7,90.4 L538.0,91.2 L537.3,91.9 L536.7,92.7 L536.0,93.4 L535.2,94.2 L534.5,94.9 L533.8,95.7 L533.0,96.5 L532.2,97.3 L531.5,98.1 L530.7,98.8 L529.8,99.6 L529.0,100.4 L528.2,101.2 L527.3,102.0 L526.4,102.9 L525.5,103.7 L524.6,104.5 L523.7,105.3 L522.8,106.1 L521.8,107.0 L520.9,107.8 L519.9,108.6 L518.9,109.4 L517.9,110.3 L516.9,111.1 L515.9,112.0 L514.9,112.8 L513.8,113.6 L512.8,114.5 L511.7,115.3 L510.6,116.2 L509.5,117.0 L508.4,117.9 L507.3,118.7 L506.2,119.6 L505.0,120.4 L503.9,121.2 L502.8,122.1 L501.6,122.9 L500.4,123.8 L499.2,124.6 L498.1,125.5 L496.9,126.3 L495.7,127.1 L494.5,128.0 L493.3,128.8 L492.0,129.7 L490.8,130.5 L489.6,131.3 L488.4,132.1 L487.1,133.0 L485.9,133.8 L484.6,134.6 L483.4,135.4 L482.1,136.2 L480.9,137.0 L479.6,137.8 L478.4,138.6 L477.1,139.4 L475.9,140.2 L474.6,141.0 L473.4,141.8 L472.1,142.6 L470.9,143.4 L469.6,144.1 L468.4,144.9 L467.1,145.6 L465.9,146.4 L464.7,147.1 L463.4,147.9 L462.2,148.6 L461.0,149.3 L459.8,150.1 L458.6,150.8 L457.4,151.5 L456.2,152.2 L455.0,152.9 L453.8,153.6 L452.7,154.3 L451.5,154.9 L450.3,155.6 L449.2,156.3 L448.1,156.9 L446.9,157.6 L445.8,158.2 L444.7,158.8 L443.6,159.4 L442.5,160.1 L441.5,160.7 L440.4,161.3 L439.3,161.9 L438.3,162.4 L437.3,163.0 L436.3,163.6 L435.3,164.1 L434.3,164.7 L433.3,165.2 L432.3,165.8 L431.4,166.3 L430.4,166.8 L429.5,167.3 L428.6,167.8 L427.7,168.3 L426.8,168.8 L425.9,169.2 L425.0,169.7 L424.2,170.2 L423.4,170.6 L422.5,171.0 L421.7,171.5 L420.9,171.9 L420.1,172.3 L419.4,172.7 L418.6,173.1 L417.9,173.5 L417.1,173.8 L416.4,174.2 L415.7,174.5 L415.0,174.9 L414.3,175.2 L413.7,175.5 L413.0,175.9 L412.4,176.2 L411.7,176.5 L411.1,176.8 L410.5,177.0 L409.9,177.3 L409.3,177.6 L408.8,177.8 L408.2,178.1 L407.7,178.3 L407.1,178.5 L406.6,178.7 L406.1,178.9 L405.6,179.1 L405.1,179.3 L404.6,179.5 L404.1,179.6 L403.7,179.8 L403.2,179.9 L402.8,180.1 L402.3,180.2 L401.9,180.3 L401.5,180.4 M393.3,179.8 L393.1,179.7 L392.9,179.5 L392.6,179.3 L392.4,179.1 L392.3,178.9 L392.1,178.7 L391.9,178.5 L391.7,178.3 L391.5,178.1 L391.4,177.8 L391.2,177.6 L391.0,177.3 L390.9,177.1 L390.7,176.8 L390.6,176.5 L390.4,176.2 L390.3,175.9 L390.1,175.6 L390.0,175.3 L389.9,174.9 L389.7,174.6 L389.6,174.2 L389.5,173.9 L389.4,173.5 L389.3,173.1 L389.2,172.7 L389.0,172.3 L388.9,171.9 L388.8,171.5 L388.7,171.1 L388.6,170.6 L388.5,170.2 L388.5,169.8 L388.4,169.3 L388.3,168.8 L388.2,168.3 L388.1,167.9 L388.0,167.4 L388.0,166.9 L387.9,166.3 L387.8,165.8 L387.7,165.3 L387.7,164.7 L387.6,164.2 L387.5,163.6 L387.5,163.1 L387.4,162.5 L387.4,161.9 L387.3,161.3 L387.3,160.7 L387.2,160.1 L387.2,159.5 L387.1,158.9 L387.1,158.3 L387.0,157.6 L387.0,157.0 L386.9,156.3 L386.9,155.7 L386.9,155.0 L386.8,154.3 L386.8,153.7 L386.7,153.0 L386.7,152.3 L386.7,151.6 L386.7,150.9 L386.7,150.9 L386.6,150.1 L386.6,149.4 L386.6,148.7 L386.6,148.0 L386.5,147.2 L386.5,146.5 L386.5,145.7 L386.5,145.0 L386.5,144.2 L386.5,143.4 L386.5,142.7 L386.4,141.9 L386.4,141.1 L386.4,140.3 L386.4,139.5 L386.4,138.7 L386.4,137.9 L386.4,137.1 L386.4,136.3 L386.4,135.5 L386.4,134.7" fill="none" stroke="#444" stroke-width="0.95" stroke-dasharray="1.1 1.9" />
<path d="M386.4,117.2 L386.6,118.2" fill="none" stroke="#444" stroke-width="0.95" stroke-dasharray="1.1 1.9" />
<path d="M403.2,104.7 L403.2,104.4 L403.1,104.1 L403.1,103.8 L403.1,103.5 L403.1,103.1 L403.1,102.8 L403.1,102.5 L403.0,102.2 L403.0,101.9 L403.0,101.6 L403.0,101.3 L403.0,101.0 L403.0,100.7 L403.0,100.4 L403.0,100.1 L403.0,99.8 L403.0,99.5 L403.0,99.2 L403.0,98.8 L403.1,98.5 L403.1,98.2 L403.1,97.9 L403.1,97.6 L403.1,97.3 L403.1,97.0 L403.2,96.7 L403.2,96.4 L403.2,96.1 L403.3,95.8 L403.3,95.5 L403.3,95.2 L403.3,94.9 L403.4,94.6 L403.4,94.3 L403.5,94.0 L403.5,93.7 L403.5,93.4 L403.6,93.1 L403.6,92.8 L403.7,92.5 L403.7,92.2 L403.8,91.9 L403.9,91.6 L403.9,91.3 L404.0,91.0 L404.0,90.7 L404.1,90.5 L404.2,90.2 L404.2,89.9 L404.3,89.6 L404.4,89.3 L404.4,89.0 L404.5,88.8 L404.6,88.5 L404.7,88.2 L404.8,87.9 L404.8,87.7 L404.9,87.4 L405.0,87.1 L405.1,86.8 L405.2,86.6 L405.3,86.3 L405.4,86.0 L405.5,85.8 L405.6,85.5 L405.7,85.3 L405.8,85.0 L405.9,84.7 L406.0,84.5 L406.1,84.2 L406.2,84.0 L406.3,83.7 L406.5,83.5 L406.6,83.2 L406.7,83.0 L406.8,82.8 L407.0,82.5 L407.1,82.3 L407.2,82.0 L407.3,81.8 L407.5,81.6 L407.6,81.3 L407.8,81.1 L407.9,80.9 L408.0,80.7 L408.2,80.4 L408.3,80.2 L408.5,80.0 L408.6,79.8 L408.8,79.6 L409.0,79.3 L409.1,79.1 L409.3,78.9 L409.4,78.7 L409.6,78.5 L409.8,78.3 L410.0,78.1 L410.1,77.9 L410.3,77.7 L410.5,77.5 L410.7,77.3 L410.9,77.2 L411.0,77.0 L411.2,76.8 L411.4,76.6 L411.6,76.4 L411.8,76.2 L412.0,76.1 L412.2,75.9 L412.4,75.7 L412.6,75.5 L412.8,75.4 L413.1,75.2 L413.3,75.1 L413.5,74.9 L413.7,74.7 L413.9,74.6 L414.1,74.4 L414.4,74.3 L414.6,74.1 L414.8,74.0 L415.1,73.8 L415.3,73.7 L415.5,73.6 L415.8,73.4 L416.0,73.3 L416.3,73.2 L416.5,73.0 L416.8,72.9 L417.0,72.8 L417.3,72.6 L417.5,72.5 L417.8,72.4 L418.1,72.3 L418.3,72.2 L418.6,72.1 L418.9,72.0 L419.1,71.9 L419.4,71.7 L419.7,71.6 L420.0,71.5 L420.3,71.4 L420.6,71.4 L420.8,71.3 L421.1,71.2 L421.4,71.1 L421.7,71.0 L422.0,70.9 L422.3,70.8 L422.6,70.8 L422.9,70.7 L423.2,70.6 L423.5,70.5 L423.8,70.5 L424.1,70.4 L424.5,70.3 L424.8,70.3 L425.1,70.2 L425.4,70.2 L425.7,70.1 L426.1,70.1 L426.4,70.0 L426.7,70.0 L427.0,69.9 L427.4,69.9 L427.7,69.8 L428.0,69.8 L428.4,69.8 L428.7,69.7 L429.1,69.7 L429.4,69.7 L429.7,69.6 L430.1,69.6 L430.4,69.6 L430.8,69.6 L431.1,69.5 L431.5,69.5 L431.8,69.5 L432.2,69.5 L432.5,69.5 L432.9,69.5 L433.2,69.5 L433.6,69.5 L434.0,69.5 L434.3,69.5 L434.7,69.5 L435.0,69.5 L435.4,69.5 L435.8,69.5 L436.1,69.6 L436.5,69.6 L436.8,69.6 L437.2,69.6 L437.6,69.7 L437.9,69.7 L438.3,69.7 L438.7,69.7 L439.0,69.8 L439.4,69.8 L439.8,69.9 L440.1,69.9 L440.5,69.9 L440.9,70.0 L441.2,70.0 L441.6,70.1 L442.0,70.1 L442.3,70.2 L442.7,70.3 L443.1,70.3 L443.4,70.4 L443.8,70.4 L444.1,70.5 L444.5,70.6 L444.9,70.7 L445.2,70.7 L445.6,70.8 L445.9,70.9 L446.3,71.0 L446.7,71.1 L447.0,71.1 L447.4,71.2 L447.7,71.3 L448.1,71.4 L448.4,71.5 L448.8,71.6 L449.1,71.7 L449.5,71.8 L449.8,71.9 L450.1,72.0 L450.5,72.1 L450.8,72.3 L451.1,72.4 L451.5,72.5 L451.8,72.6 L452.1,72.7 L452.5,72.9 L452.8,73.0 L453.1,73.1 L453.4,73.3 L453.7,73.4 L454.1,73.5 L454.4,73.7 L454.7,73.8 L455.0,73.9 L455.3,74.1 L455.6,74.2 L455.9,74.4 L456.2,74.5 L456.5,74.7 L456.7,74.9 L457.0,75.0 L457.3,75.2 L457.6,75.3 L457.9,75.5 L458.1,75.7 L458.4,75.8 L458.7,76.0 L458.9,76.2 L459.2,76.4 L459.4,76.5 L459.7,76.7 L459.9,76.9 L460.2,77.1 L460.4,77.3 L460.6,77.5 L460.8,77.7 L461.1,77.9 L461.3,78.1 L461.5,78.3 L461.7,78.5 L461.9,78.7 L462.1,78.9 L462.3,79.1 L462.5,79.3 L462.7,79.5 L462.9,79.7 L463.1,79.9 L463.3,80.2 L463.4,80.4 L463.6,80.6 L463.8,80.8 L463.9,81.0 L464.1,81.3 L464.2,81.5 L464.4,81.7 L464.5,82.0 L464.6,82.2 L464.8,82.4 L464.9,82.7 L465.0,82.9 L465.1,83.2 L465.2,83.4 L465.3,83.7 L465.4,83.9 L465.5,84.2 L465.6,84.4 L465.7,84.7 L465.8,84.9 L465.8,85.2 L465.9,85.4 L466.0,85.7 L466.0,86.0 L466.1,86.2 L466.1,86.5 L466.2,86.8 L466.2,87.0 L466.2,87.3 L466.3,87.6 L466.3,87.9 L466.3,88.1 L466.3,88.4 L466.3,88.7 L466.3,89.0 L466.3,89.2 L466.3,89.5 L466.3,89.8 L466.3,90.1 L466.2,90.4 L466.2,90.7 L466.2,91.0 L466.1,91.3 L466.1,91.5 L466.0,91.8 L466.0,92.1 L465.9,92.4 L465.9,92.7 L465.8,93.0 L465.7,93.3 L465.6,93.6 L465.5,93.9 L465.4,94.2 L465.3,94.5 L465.2,94.8 L465.1,95.1 L465.0,95.4 L464.9,95.7 L464.8,96.0 L464.7,96.3 L464.5,96.6 L464.4,96.9 L464.2,97.2 L464.1,97.5 L464.0,97.8 L463.8,98.1 L463.6,98.5 L463.5,98.8 L463.3,99.1 L463.1,99.4 L462.9,99.7 L462.8,100.0 L462.6,100.3 L462.4,100.6 L462.2,100.9 L462.0,101.2 L461.8,101.5 L461.6,101.8 L461.3,102.1 L461.1,102.5 L460.9,102.8 L460.7,103.1 L460.4,103.4 L460.2,103.7 L460.0,104.0 L459.7,104.3 L459.5,104.6 L459.2,104.9 L459.0,105.2 L458.7,105.5 L458.5,105.8 L458.2,106.1 L457.9,106.4 L457.7,106.7 L457.4,107.0 L457.1,107.3 L456.8,107.6 L456.5,107.9 L456.2,108.2 L455.9,108.5 L455.7,108.8 L455.4,109.1 L455.1,109.4 L454.7,109.7 L454.4,109.9 L454.1,110.2 L453.8,110.5 L453.5,110.8 L453.2,111.1 L452.9,111.4 L452.5,111.6 L452.2,111.9 L451.9,112.2 L451.6,112.5 L451.2,112.7 L450.9,113.0 L450.6,113.3 L450.2,113.5 L449.9,113.8 L449.5,114.1 L449.2,114.3 L448.9,114.6 L448.5,114.9 L448.2,115.1 L447.8,115.4 L447.5,115.6 L447.1,115.9 L446.7,116.1 L446.4,116.4 L446.0,116.6 L445.7,116.8 L445.3,117.1 L445.0,117.3 L444.6,117.6 L444.2,117.8 L443.9,118.0 L443.5,118.2 L443.2,118.5 L442.8,118.7 L442.4,118.9 L442.1,119.1 L441.7,119.3 L441.3,119.5 L441.0,119.7 L440.6,119.9 L440.2,120.1 L439.9,120.3 L439.5,120.5 L439.1,120.7 L438.8,120.9 L438.4,121.1 L438.0,121.3 L437.7,121.5 L437.3,121.7 L436.9,121.8 L436.6,122.0 L436.2,122.2 L435.8,122.3 L435.5,122.5 L435.1,122.7 L434.8,122.8 L434.4,123.0 L434.0,123.1 L433.7,123.3 L433.3,123.4 L433.0,123.5 L432.6,123.7 L432.3,123.8 L431.9,123.9 L431.6,124.1 L431.2,124.2 L430.9,124.3 L430.5,124.4 L430.2,124.5 L429.8,124.6 L429.5,124.8 L429.1,124.9 L428.8,125.0 L428.5,125.0 L428.1,125.1 L427.8,125.2 L427.5,125.3 L427.1,125.4 L426.8,125.5 L426.5,125.5 L426.1,125.6 L425.8,125.7 L425.5,125.7 L425.2,125.8 L424.9,125.8 L424.5,125.9 L424.2,125.9 L423.9,126.0 L423.6,126.0 L423.3,126.1 L423.0,126.1 L422.7,126.1 L422.4,126.1 L422.1,126.2 L421.8,126.2 L421.5,126.2 L421.2,126.2 L420.9,126.2 L420.6,126.2 L420.3,126.2 L420.1,126.2 L419.8,126.2 L419.5,126.2 L419.2,126.2 L418.9,126.2 L418.7,126.1 L418.4,126.1 L418.1,126.1 L417.9,126.0 L417.6,126.0 L417.4,126.0 L417.1,125.9 L416.8,125.9 L416.6,125.8 L416.3,125.7 L416.1,125.7 L415.8,125.6 L415.6,125.6 L415.4,125.5 L415.1,125.4 L414.9,125.3 L414.7,125.2 L414.4,125.2 L414.2,125.1 L414.0,125.0 L413.8,124.9 L413.5,124.8 L413.3,124.7 L413.1,124.6 L412.9,124.5 L412.7,124.3 L412.5,124.2 L412.3,124.1 L412.1,124.0 L411.9,123.8 L411.7,123.7 L411.5,123.6 L411.3,123.4 L411.1,123.3 L410.9,123.2 L410.7,123.0 L410.5,122.9 L410.4,122.7 L410.2,122.5 L410.0,122.4 L409.8,122.2 L409.7,122.0 L409.5,121.9 L409.3,121.7 L409.2,121.5 L409.0,121.3 L408.8,121.2 L408.7,121.0 L408.5,120.8 L408.4,120.6 L408.2,120.4 L408.1,120.2 L407.9,120.0 L407.8,119.8 L407.7,119.6 L407.5,119.4 L407.4,119.2 L407.2,119.0 L407.1,118.7 L407.0,118.5 L406.9,118.3 L406.7,118.1 L406.6,117.8 L406.5,117.6 L406.4,117.4 L406.3,117.1 L406.1,116.9 L406.0,116.7 L405.9,116.4 L405.8,116.2 L405.7,115.9 L405.6,115.7 L405.5,115.4 L405.4,115.2 L405.3,114.9 L405.2,114.7 L405.1,114.4 L405.0,114.1 L404.9,113.9 L404.9,113.6 L404.8,113.4 L404.7,113.1 L404.6,112.8 L404.5,112.5 L404.5,112.3 L404.4,112.0 L404.3,111.7 L404.2,111.4 L404.2,111.2 L404.1,110.9 L404.0,110.6 L404.0,110.3 L403.9,110.0 L403.9,109.7 L403.8,109.4 L403.8,109.1 L403.7,108.9 L403.7,108.6 L403.6,108.3 L403.6,108.0 L403.5,107.7 L403.5,107.4 L403.4,107.1 L403.4,106.8 L403.4,106.5 L403.3,106.2 L403.3,105.9 L403.3,105.6 L403.2,105.3 L403.2,105.0 L403.2,104.7Z" fill="none" stroke="#555" stroke-width="1" stroke-dasharray="5.5 3" />
<circle cx="419.8" cy="68.7" r="3.3" fill="#fff" fill-opacity="0" stroke="#1a1a1a" stroke-width="1.1"/>
<text x="419.8" y="70.2" font-size="4.2" fill="#888" text-anchor="middle">1</text>
<circle cx="445.6" cy="80.6" r="3.3" fill="#fff" fill-opacity="0" stroke="#1a1a1a" stroke-width="1.1"/>
<text x="445.6" y="82.1" font-size="4.2" fill="#888" text-anchor="middle">2</text>
<circle cx="482.8" cy="58.9" r="3.3" fill="#fff" fill-opacity="0" stroke="#1a1a1a" stroke-width="1.1"/>
<text x="482.8" y="60.4" font-size="4.2" fill="#888" text-anchor="middle">3</text>
<circle cx="393.5" cy="100.5" r="3.3" fill="#fff" fill-opacity="0" stroke="#1a1a1a" stroke-width="1.1"/>
<text x="393.5" y="102.0" font-size="4.2" fill="#888" text-anchor="middle">4</text>
<circle cx="408.8" cy="101.4" r="3.3" fill="#fff" fill-opacity="0" stroke="#1a1a1a" stroke-width="1.1"/>
<text x="408.8" y="102.9" font-size="4.2" fill="#888" text-anchor="middle">5</text>
<circle cx="418.9" cy="120.2" r="3.3" fill="#fff" fill-opacity="0" stroke="#1a1a1a" stroke-width="1.1"/>
<text x="418.9" y="121.7" font-size="4.2" fill="#888" text-anchor="middle">6</text>
<circle cx="422.9" cy="124.4" r="3.3" fill="#fff" fill-opacity="0" stroke="#1a1a1a" stroke-width="1.1"/>
<text x="422.9" y="125.9" font-size="4.2" fill="#888" text-anchor="middle">7</text>
<circle cx="452.4" cy="121.7" r="3.3" fill="#fff" fill-opacity="0" stroke="#1a1a1a" stroke-width="1.1"/>
<text x="452.4" y="123.2" font-size="4.2" fill="#888" text-anchor="middle">8</text>
<path d="M426.6,90.8 L430.8,95 L426.6,99.2 L422.40000000000003,95Z" fill="#9a3843"/>
<path d="M380.5,283.8 L380.5,283.8 L380.5,283.8 L380.5,283.8 L380.5,283.8 L380.5,283.8 L380.5,283.8 L380.5,283.8 L380.5,283.8 L380.5,283.8 L380.5,283.8 L380.5,283.8 L380.5,283.8 L380.5,283.8 L380.5,283.8 L380.5,283.8 L380.5,283.8 L380.5,283.8 L380.5,283.8 L380.5,283.8 L380.5,283.8 L380.5,283.8 L380.5,283.8 L380.5,283.8 L380.5,283.8 L380.5,283.8 L380.5,283.8 L380.5,283.8 L380.5,283.8 L380.5,283.8 L380.5,283.8 L380.5,283.8 L380.5,283.8 L380.5,283.8 L380.5,283.8 L380.5,283.8 L380.5,283.8 L380.5,283.8 L380.5,283.8 L380.5,283.8 L380.5,283.8 L380.5,283.8 L380.5,283.8 L380.5,283.8 L380.5,283.8 L380.5,283.8 L380.5,283.8 L380.5,283.8 L380.5,283.8 L380.5,283.8 L380.5,283.8 L380.5,283.8 L380.5,283.8 L380.5,283.8 L380.5,283.8 L380.5,283.8 L380.5,283.8 L380.5,283.8 L380.5,283.8 L380.5,283.8 L380.5,283.8 L380.5,283.8 L380.5,283.8 L380.5,283.8 L380.5,283.8 L380.5,283.8 L380.5,283.8 L380.5,283.7 L380.5,283.7 L380.5,283.7 L380.5,283.7 L380.5,283.7 L380.5,283.7 L380.5,283.7 L380.5,283.7 L380.5,283.6 L380.5,283.6 L380.5,283.6 L380.5,283.5 L380.5,283.5 L380.5,283.5 L380.5,283.4 L380.5,283.3 L380.5,283.3 L380.5,283.2 L380.5,283.1 L380.5,283.0 L380.5,282.9 L380.5,282.7 L380.5,282.5 L380.5,282.4 L380.5,282.1 L380.5,281.9 L380.5,281.6 L380.5,281.2 L380.5,280.8 L380.5,280.4 L380.5,279.8 L380.5,279.2 L380.5,278.5 L380.5,277.7 L380.5,276.8 L380.6,275.7 L380.6,274.5 L380.6,273.1 L380.6,271.5 L380.6,269.7 L380.7,267.7 L380.7,265.3 L380.8,262.6 L380.8,259.6 L380.9,256.2 L381.0,252.4 L381.2,248.2 L381.3,243.4 L381.5,238.2 L381.8,232.4 L382.2,226.1 L382.6,219.2 L383.1,211.8 L383.1,211.8 L384.4,197.8 L385.7,187.0 L387.0,178.1 L388.3,170.7 L389.6,164.2 L390.9,158.5 L392.2,153.5 L393.5,148.9 L394.8,144.8 L396.1,141.0 L397.4,137.6 L398.7,134.4 L400.0,131.4 L401.3,128.6 L402.6,125.9 L403.9,123.5 L405.2,121.2 L406.5,119.0 L407.7,116.9 L409.0,114.9 L410.3,113.0 L411.6,111.2 L412.9,109.5 L414.2,107.8 L415.5,106.2 L416.8,104.7 L418.1,103.3 L419.4,101.9 L420.7,100.5 L422.0,99.2 L423.3,98.0 L424.6,96.7 L425.9,95.6 L427.2,94.4 L428.5,93.3 L429.8,92.2 L431.1,91.2 L432.4,90.2 L433.7,89.2 L435.0,88.2 L436.3,87.3 L437.5,86.4 L438.8,85.5 L440.1,84.6 L441.4,83.8 L442.7,83.0 L444.0,82.1 L445.3,81.4 L446.6,80.6 L447.9,79.8 L449.2,79.1 L450.5,78.4 L451.8,77.7 L453.1,77.0 L454.4,76.3 L455.7,75.6 L457.0,75.0 L458.3,74.3 L459.6,73.7 L460.9,73.1 L462.2,72.5 L463.5,71.9 L464.8,71.3 L466.1,70.7 L467.3,70.1 L468.6,69.6 L469.9,69.0 L471.2,68.5 L472.5,68.0 L473.8,67.4 L475.1,66.9 L476.4,66.4 L477.7,65.9 L479.0,65.4 L480.3,64.9 L481.6,64.4 L482.9,64.0 L484.2,63.5 L485.5,63.0 L486.8,62.6 L488.1,62.1 L489.4,61.7 L490.7,61.2 L492.0,60.8 L493.3,60.4 L494.6,59.9 L495.9,59.5 L497.1,59.1 L498.4,58.7 L499.7,58.3 L501.0,57.9 L502.3,57.5 L503.6,57.1 L504.9,56.7 L506.2,56.3 L507.5,55.9 L508.8,55.6 L510.1,55.2 L511.4,54.8 L512.7,54.4 L514.0,54.1 L515.3,53.7 L516.6,53.4 L517.9,53.0 L519.2,52.6 L520.5,52.3 L521.8,52.0 L523.1,51.6 L524.4,51.3 L525.7,50.9 L527.0,50.6 L528.2,50.3 L529.5,49.9 L530.8,49.6 L532.1,49.3 L533.4,48.9 L534.7,48.6 L536.0,48.3 L537.3,48.0 L538.6,47.7 L539.9,47.4 L541.2,47.0 L542.5,46.7 L543.8,46.4 L545.1,46.1 L546.4,45.8 L547.7,45.5 L549.0,45.2 L550.3,44.9 L551.6,44.6 L552.9,44.3 L554.2,44.0 L555.5,43.7 L556.8,43.4 L558.0,43.1 L559.3,42.8 L560.6,42.5 L561.9,42.2 L563.2,42.0 L564.5,41.7 L565.8,41.4 L567.1,41.1 L568.4,40.8 L569.7,40.5 L571.0,40.2 L572.3,40.0 L573.6,39.7 L574.9,39.4 L576.2,39.1 L577.5,38.8 L578.8,38.5 L580.1,38.3 L581.4,38.0 L582.7,37.7 L584.0,37.4 L585.3,37.1 L586.6,36.9 L587.8,36.6 L589.1,36.3 L590.4,36.0 L591.7,35.7 L593.0,35.4 L594.3,35.2 L595.6,34.9 L596.9,34.6 L598.2,34.3 L599.5,34.0 L600.8,33.7 L602.1,33.4 L603.4,33.1 L604.7,32.9 L606.0,32.6 L607.3,32.3 L608.6,32.0 L609.9,31.7 L611.2,31.4 L612.5,31.1 L613.8,30.8 L615.1,30.4 L616.4,30.1 L617.6,29.8 L618.9,29.5 L620.2,29.2 L621.5,28.8 L622.8,28.5 L624.1,28.2 L625.4,27.8 L626.7,27.5 L628.0,27.1 L629.3,26.7 L630.6,26.4 L631.9,26.0 L633.2,25.5 L634.5,25.1 L635.8,24.7 L637.1,24.2 L638.4,23.7 L639.7,23.1 L641.0,22.5 L641.0,22.5 L641.6,22.2 L642.0,21.9 L642.3,21.7 L642.6,21.5 L642.8,21.4 L643.0,21.2 L643.1,21.1 L643.2,21.0 L643.3,20.9 L643.3,20.8 L643.4,20.7 L643.4,20.7 L643.5,20.6 L643.5,20.6 L643.5,20.5 L643.5,20.5 L643.6,20.5 L643.6,20.5 L643.6,20.4 L643.6,20.4 L643.6,20.4 L643.6,20.4 L643.6,20.4 L643.6,20.4 L643.6,20.4 L643.6,20.3 L643.6,20.3 L643.6,20.3 L643.6,20.3 L643.6,20.3 L643.6,20.3 L643.6,20.3 L643.6,20.3 L643.6,20.3 L643.6,20.3 L643.6,20.3 L643.6,20.3 L643.6,20.3 L643.6,20.3 L643.6,20.3 L643.6,20.3 L643.6,20.3 L643.6,20.3 L643.6,20.3 L643.6,20.3 L643.6,20.3 L643.6,20.3 L643.6,20.3 L643.6,20.3 L643.6,20.3 L643.6,20.3 L643.6,20.3 L643.6,20.3 L643.6,20.3 L643.6,20.3 L643.6,20.3 L643.6,20.3 L643.6,20.3 L643.6,20.3 L643.6,20.3 L643.6,20.3 L643.6,20.3 L643.6,20.3 L643.6,20.3 L643.6,20.3 L643.6,20.3 L643.6,20.3 L643.6,20.3 L643.6,20.3 L643.6,20.3 L643.6,20.3 L643.6,20.3 L643.6,20.3 L643.6,20.3 L643.6,20.3 L643.6,20.3 L643.6,20.3 L643.6,20.3 L643.6,20.3 L643.6,20.3 L643.6,20.3 L643.6,20.3 L643.6,20.3 L643.6,20.3 L643.6,20.3 L643.6,20.3 L643.6,20.3 L643.6,20.3 L643.6,20.3 L643.6,20.3 L643.6,20.3 L643.6,20.3 L643.6,20.3 L643.6,20.3 L643.6,20.3 L643.6,20.3 L643.6,20.3 L643.6,20.3 L643.6,20.3 L643.6,20.3 L643.6,20.3 L643.6,20.3 L643.6,20.3 L643.6,20.3 L643.6,20.3 L643.6,20.3 L643.6,20.3 L643.6,20.3 L643.6,20.3 L643.6,20.3 L643.6,20.3 L643.6,20.3 L643.6,20.3 L643.6,20.3 L643.6,20.3 L643.6,20.3 L643.6,20.3 L643.6,20.3 L643.6,20.3" fill="none" stroke="#1a1a1a" stroke-width="1.25"/>
<rect x="531.4" y="186.1" width="108.10000000000002" height="92.70000000000002" fill="#fff" stroke="#555" stroke-width="1"/>
<g font-size="8.2" fill="#2a2a2a">
<text x="550.6" y="199.4" textLength="47.08" lengthAdjust="spacingAndGlyphs">Observed Data</text>
<text x="550.6" y="212.79999999999998" textLength="80.53" lengthAdjust="spacingAndGlyphs">Summary Operating Point</text>
<text x="550.6" y="219.3" textLength="79.96" lengthAdjust="spacingAndGlyphs">SENS = 0.72 [0.65 - 0.78]</text>
<text x="550.6" y="226.39999999999998" textLength="79.96" lengthAdjust="spacingAndGlyphs">SPEC = 0.82 [0.74 - 0.88]</text>
<text x="550.6" y="236.6" textLength="40.84" lengthAdjust="spacingAndGlyphs">SROC Curve</text>
<text x="550.6" y="243.2" textLength="75.68" lengthAdjust="spacingAndGlyphs">AUC = 0.82 [0.79 - 0.85]</text>
<text x="550.6" y="256.7" textLength="78.21" lengthAdjust="spacingAndGlyphs">95% Confidence Contour</text>
<text x="550.6" y="271.2" textLength="73.93" lengthAdjust="spacingAndGlyphs">95% Prediction Contour</text>
</g>
<circle cx="540.1" cy="197.2" r="3.4" fill="none" stroke="#111" stroke-width="1.2"/>
<path d="M540.1,212.6 L544.5,217.0 L540.1,221.39999999999998 L535.7,217.0Z" fill="#9a3843"/>
<path d="M537.4,237.1 L542.8000000000001,237.1" stroke="#111" stroke-width="1.2"/>
<path d="M537.4,254.2 L542.8000000000001,254.2" stroke="#666" stroke-width="0.9"/>
<g stroke="#505050" stroke-width="1" fill="none">
<path d="M41.4,358.6 L41.4,626.3 M36.4,622.3 L304.9,622.3 L304.9,626.3 M173.14999999999998,622.3 L173.14999999999998,626.3 M36.4,358.6 L41.4,358.6 M36.4,490.45 L41.4,490.45"/>
</g>
<g font-size="11.8" fill="#222">
<text x="34.5" y="362.90000000000003" text-anchor="end">1.0</text>
<text x="34.5" y="494.75" text-anchor="end">0.5</text>
<text x="34.5" y="626.5999999999999" text-anchor="end">0.0</text>
<text x="41.4" y="639.6999999999999" text-anchor="middle">1.0</text>
<text x="173.14999999999998" y="639.6999999999999" text-anchor="middle">0.5</text>
<text x="304.9" y="639.6999999999999" text-anchor="middle">0.0</text>
</g>
<text font-size="12" fill="#222" x="173.14999999999998" y="650.5999999999999" text-anchor="middle">Specificity</text>
<text font-size="12" fill="#222" transform="translate(10.0,490.45) rotate(-90)" text-anchor="middle">Sensitivity</text>
<text font-size="12.2" fill="#363e62" x="48.5" y="353.70000000000005">SROC with Prediction &amp; Confidence Contours</text>
<text font-size="15.6" font-weight="bold" fill="#000" x="1.9" y="346.6">c</text>
<path d="M43.5,587.0 L48.9,590.7 L57.5,592.8 L78.9,593.7 L121.9,593.7 L173.4,592.8 L192.5,592.2 M41.9,470.0 L41.9,560.0 M275.5,363.5 L278.5,364.5 M300.5,366.0 L301.5,368.0 M301.2,565.0 L301.2,567.0" fill="none" stroke="#444" stroke-width="0.95" stroke-dasharray="1.1 1.9" />
<path d="M42.7,503.5 L42.7,502.7 L42.7,501.8 L42.7,501.0 L42.7,500.1 L42.7,499.3 L42.7,498.4 L42.7,497.5 L42.7,496.6 L42.7,495.7 L42.7,494.8 L42.7,493.9 L42.7,493.0 L42.7,492.0 L42.7,491.1 L42.7,490.1 L42.7,489.2 L42.7,488.2 L42.7,487.2 L42.7,486.3 L42.7,485.3 L42.7,484.3 L42.7,483.3 L42.7,482.3 L42.7,481.3 L42.8,480.3 L42.8,479.3 L42.8,478.3 L42.8,477.2 L42.8,476.2 L42.8,475.2 L42.8,474.1 L42.8,473.1 L42.9,472.1 L42.9,471.0 L42.9,470.0 L42.9,468.9 L42.9,467.9 L42.9,466.8 L43.0,465.8 L43.0,464.7 L43.0,463.7 L43.0,462.6 L43.0,461.5 L43.1,460.5 L43.1,459.4 L43.1,458.4 L43.2,457.3 L43.2,456.3 L43.2,455.2 L43.2,454.2 L43.3,453.1 L43.3,452.1 L43.3,451.0 L43.4,450.0 L43.4,449.0 L43.5,447.9 L43.5,446.9 L43.5,445.9 L43.6,444.9 L43.6,443.9 L43.7,442.8 L43.7,441.8 L43.8,440.8 L43.8,439.8 L43.9,438.9 L43.9,437.9 L44.0,436.9 L44.1,435.9 L44.1,435.0 L44.2,434.0 L44.3,433.0 L44.3,432.1 L44.4,431.2 L44.5,430.2 L44.6,429.3 L44.7,428.4 L44.8,427.5 L44.9,426.6 L44.9,425.7 L45.0,424.8 L45.1,423.9 L45.3,423.1 L45.4,422.2 L45.5,421.4 L45.6,420.5 L45.7,419.7 L45.9,418.9 L46.0,418.1 L46.1,417.3 L46.3,416.5 L46.4,415.7 L46.6,414.9 L46.8,414.1 L46.9,413.4 L47.1,412.6 L47.3,411.9 L47.5,411.2 L47.7,410.4 L47.9,409.7 L48.1,409.0 L48.4,408.3 L48.6,407.6 L48.8,407.0 L49.1,406.3 L49.4,405.6 L49.6,405.0 L49.9,404.4 L50.2,403.7 L50.5,403.1 L50.9,402.5 L51.2,401.9 L51.5,401.3 L51.9,400.7 L52.3,400.2 L52.7,399.6 L53.1,399.0 L53.5,398.5 L54.0,398.0 L54.4,397.4 L54.9,396.9 L55.4,396.4 L55.9,395.9 L56.5,395.4 L57.0,394.9 L57.6,394.4 L58.2,394.0 L58.8,393.5 L59.5,393.1 L60.2,392.6 L60.9,392.2 L61.6,391.8 L62.3,391.3 L63.1,390.9 L63.9,390.5 L64.8,390.1 L65.7,389.7 L66.6,389.3 L67.5,389.0 L68.5,388.6 L69.5,388.2 L70.5,387.9 L71.6,387.5 L72.7,387.2 L73.9,386.8 L75.0,386.5 L76.3,386.2 L77.5,385.9 L78.8,385.6 L80.2,385.3 L81.6,385.0 L83.0,384.7 L84.5,384.4 L86.0,384.1 L87.5,383.8 L89.1,383.6 L90.8,383.3 L92.5,383.0 L94.2,382.8 L96.0,382.5 L97.8,382.3 L99.7,382.1 L101.6,381.8 L103.5,381.6 L105.5,381.4 L107.5,381.2 L109.6,381.0 L111.7,380.8 L113.9,380.6 L116.1,380.4 L118.3,380.2 L120.6,380.0 L122.9,379.8 L125.2,379.6 L127.6,379.5 L129.9,379.3 L132.4,379.1 L134.8,379.0 L137.3,378.8 L139.8,378.7 L142.3,378.5 L144.8,378.4 L147.3,378.2 L149.9,378.1 L152.5,378.0 L155.1,377.8 L157.6,377.7 L160.2,377.6 L162.8,377.5 L165.4,377.4 L168.0,377.3 L170.6,377.2 L173.1,377.1 L175.7,377.0 L178.3,376.9 L180.8,376.8 L183.3,376.7 L185.8,376.6 L188.3,376.5 L190.8,376.4 L193.2,376.4 L195.6,376.3 L198.0,376.2 L200.3,376.2 L202.7,376.1 L205.0,376.0 L207.2,376.0 L209.4,375.9 L211.6,375.9 L213.8,375.8 L215.9,375.8 L218.0,375.8 L220.0,375.7 L222.0,375.7 L224.0,375.6 L225.9,375.6 L227.8,375.6 L229.7,375.6 L231.5,375.6 L233.2,375.5 L234.9,375.5 L236.6,375.5 L238.3,375.5 L239.9,375.5 L241.4,375.5 L243.0,375.5 L244.5,375.5 L245.9,375.5 L247.3,375.5 L248.7,375.5 L250.0,375.6 L251.3,375.6 L252.6,375.6 L253.8,375.6 L255.0,375.7 L256.2,375.7 L257.3,375.7 L258.4,375.8 L259.5,375.8 L260.5,375.8 L261.5,375.9 L262.5,375.9 L263.4,376.0 L264.4,376.1 L265.2,376.1 L266.1,376.2 L266.9,376.2 L267.7,376.3 L268.5,376.4 L269.3,376.5 L270.0,376.5 L270.7,376.6 L271.4,376.7 L272.1,376.8 L272.7,376.9 L273.3,377.0 L273.9,377.1 L274.5,377.2 L275.1,377.3 L275.6,377.4 L276.2,377.5 L276.7,377.6 L277.1,377.7 L277.6,377.9 L278.1,378.0 L278.5,378.1 L278.9,378.3 L279.4,378.4 L279.7,378.6 L280.1,378.7 L280.5,378.9 L280.8,379.0 L281.2,379.2 L281.5,379.3 L281.8,379.5 L282.1,379.7 L282.4,379.9 L282.7,380.0 L283.0,380.2 L283.2,380.4 L283.5,380.6 L283.7,380.8 L283.9,381.0 L284.1,381.2 L284.3,381.4 L284.5,381.7 L284.7,381.9 L284.9,382.1 L285.0,382.4 L285.2,382.6 L285.4,382.9 L285.5,383.1 L285.6,383.4 L285.7,383.6 L285.9,383.9 L286.0,384.2 L286.1,384.5 L286.1,384.7 L286.2,385.0 L286.3,385.3 L286.4,385.6 L286.4,386.0 L286.5,386.3 L286.5,386.6 L286.6,386.9 L286.6,387.3 L286.6,387.6 L286.6,388.0 L286.6,388.3 L286.6,388.7 L286.6,389.1 L286.6,389.4 L286.6,389.8 L286.5,390.2 L286.5,390.6 L286.5,391.0 L286.4,391.4 L286.3,391.9 L286.3,392.3 L286.2,392.7 L286.1,393.2 L286.0,393.6 L285.9,394.1 L285.8,394.6 L285.7,395.1 L285.6,395.5 L285.4,396.0 L285.3,396.5 L285.1,397.1 L285.0,397.6 L284.8,398.1 L284.6,398.6 L284.4,399.2 L284.2,399.8 L284.0,400.3 L283.8,400.9 L283.6,401.5 L283.3,402.1 L283.1,402.7 L282.8,403.3 L282.6,403.9 L282.3,404.5 L282.0,405.2 L281.7,405.8 L281.4,406.5 L281.0,407.1 L280.7,407.8 L280.3,408.5 L279.9,409.2 L279.6,409.9 L279.2,410.6 L278.7,411.3 L278.3,412.1 L277.9,412.8 L277.4,413.6 L276.9,414.3 L276.4,415.1 L275.9,415.9 L275.4,416.7 L274.8,417.5 L274.2,418.3 L273.7,419.1 L273.0,419.9 L272.4,420.7 L271.8,421.6 L271.1,422.4 L270.4,423.3 L269.7,424.2 L268.9,425.0 L268.2,425.9 L267.4,426.8 L266.5,427.7 L265.7,428.6 L264.8,429.6 L263.9,430.5 L263.0,431.4 L262.0,432.3 L261.0,433.3 L260.0,434.2 L259.0,435.2 L257.9,436.2 L256.8,437.1 L255.6,438.1 L254.5,439.1 L253.3,440.1 L252.0,441.1 L250.7,442.1 L249.4,443.1 L248.0,444.1 L246.7,445.1 L245.2,446.2 L243.8,447.2 L242.2,448.2 L240.7,449.2 L239.1,450.3 L237.5,451.3 L235.8,452.4 L234.1,453.4 L232.4,454.5 L230.6,455.5 L228.8,456.6 L226.9,457.6 L225.0,458.7 L223.1,459.7 L221.1,460.8 L219.1,461.8 L217.0,462.9 L214.9,463.9 L212.8,465.0 L210.6,466.0 L208.4,467.1 L206.1,468.1 L203.9,469.2 L201.6,470.2 L199.2,471.3 L196.8,472.3 L194.5,473.4 L192.0,474.4 L189.6,475.4 L187.1,476.5 L184.6,477.5 L182.1,478.5 L179.6,479.5 L177.0,480.6 L174.5,481.6 L171.9,482.6 L169.3,483.6 L166.7,484.6 L164.2,485.5 L161.6,486.5 L159.0,487.5 L156.4,488.5 L153.8,489.4 L151.2,490.4 L148.7,491.3 L146.1,492.3 L143.6,493.2 L141.1,494.1 L138.6,495.0 L136.1,496.0 L133.6,496.9 L131.2,497.7 L128.8,498.6 L126.4,499.5 L124.1,500.4 L121.8,501.2 L119.5,502.1 L117.2,502.9 L115.0,503.7 L112.8,504.6 L110.7,505.4 L108.6,506.2 L106.6,506.9 L104.6,507.7 L102.6,508.5 L100.7,509.3 L98.8,510.0 L96.9,510.7 L95.1,511.5 L93.4,512.2 L91.7,512.9 L90.0,513.6 L88.4,514.3 L86.8,514.9 L85.3,515.6 L83.8,516.3 L82.3,516.9 L80.9,517.5 L79.5,518.2 L78.2,518.8 L76.9,519.4 L75.7,519.9 L74.5,520.5 L73.3,521.1 L72.2,521.6 L71.1,522.2 L70.0,522.7 L69.0,523.2 L68.0,523.7 L67.1,524.2 L66.1,524.7 L65.2,525.2 L64.4,525.7 L63.6,526.1 L62.8,526.5 L62.0,527.0 L61.2,527.4 L60.5,527.8 L59.8,528.2 L59.2,528.6 L58.5,529.0 L57.9,529.3 L57.3,529.7 L56.7,530.0 L56.2,530.3 L55.7,530.6 L55.2,531.0 L54.7,531.2 L54.2,531.5 L53.7,531.8 L53.3,532.1 L52.9,532.3 L52.5,532.6 L52.1,532.8 L51.7,533.0 L51.4,533.2 L51.0,533.4 L50.7,533.6 L50.4,533.8 L50.1,533.9 L49.8,534.1 L49.5,534.2 L49.2,534.3 L49.0,534.5 L48.7,534.6 L48.5,534.7 L48.2,534.7 L48.0,534.8 L47.8,534.9 L47.6,534.9 L47.4,535.0 L47.2,535.0 L47.0,535.0 L46.9,535.0 L46.7,535.0 L46.5,535.0 L46.4,535.0 L46.2,535.0 L46.1,534.9 L45.9,534.9 L45.8,534.8 L45.7,534.7 L45.5,534.6 L45.4,534.5 L45.3,534.4 L45.2,534.3 L45.1,534.2 L45.0,534.0 L44.9,533.9 L44.8,533.7 L44.7,533.5 L44.6,533.3 L44.5,533.2 L44.5,532.9 L44.4,532.7 L44.3,532.5 L44.2,532.2 L44.2,532.0 L44.1,531.7 L44.0,531.5 L44.0,531.2 L43.9,530.9 L43.9,530.6 L43.8,530.2 L43.8,529.9 L43.7,529.6 L43.7,529.2 L43.6,528.9 L43.6,528.5 L43.5,528.1 L43.5,527.7 L43.4,527.3 L43.4,526.9 L43.4,526.4 L43.3,526.0 L43.3,525.5 L43.3,525.1 L43.2,524.6 L43.2,524.1 L43.2,523.6 L43.1,523.1 L43.1,522.6 L43.1,522.0 L43.1,521.5 L43.0,520.9 L43.0,520.4 L43.0,519.8 L43.0,519.2 L42.9,518.6 L42.9,518.0 L42.9,517.4 L42.9,516.7 L42.9,516.1 L42.9,515.4 L42.8,514.8 L42.8,514.1 L42.8,513.4 L42.8,512.7 L42.8,512.0 L42.8,511.3 L42.8,510.6 L42.8,509.8 L42.8,509.1 L42.7,508.3 L42.7,507.5 L42.7,506.7 L42.7,506.0 L42.7,505.2 L42.7,504.3 L42.7,503.5Z" fill="none" stroke="#555" stroke-width="1" stroke-dasharray="5.5 3" />
<circle cx="106.9" cy="419.1" r="3.3" fill="#fff" fill-opacity="0" stroke="#1a1a1a" stroke-width="1.1"/>
<text x="106.9" y="420.6" font-size="4.2" fill="#888" text-anchor="middle">1</text>
<circle cx="54.3" cy="438.7" r="3.3" fill="#fff" fill-opacity="0" stroke="#1a1a1a" stroke-width="1.1"/>
<text x="54.3" y="440.2" font-size="4.2" fill="#888" text-anchor="middle">2</text>
<circle cx="83.7" cy="462.3" r="3.3" fill="#fff" fill-opacity="0" stroke="#1a1a1a" stroke-width="1.1"/>
<text x="83.7" y="463.8" font-size="4.2" fill="#888" text-anchor="middle">3</text>
<circle cx="216.2" cy="392.9" r="3.3" fill="#fff" fill-opacity="0" stroke="#1a1a1a" stroke-width="1.1"/>
<text x="216.2" y="394.4" font-size="4.2" fill="#888" text-anchor="middle">4</text>
<path d="M98.9,424.8 L103.10000000000001,429 L98.9,433.2 L94.7,429Z" fill="#9a3843"/>
<path d="M41.4,622.3 L41.4,622.3 L41.4,622.3 L41.4,622.3 L41.4,622.3 L41.4,622.3 L41.4,622.3 L41.4,622.3 L41.4,622.3 L41.4,622.3 L41.4,622.3 L41.4,622.3 L41.4,622.3 L41.4,622.3 L41.4,622.3 L41.4,622.3 L41.4,622.3 L41.4,622.3 L41.4,622.3 L41.4,622.3 L41.4,622.2 L41.4,622.2 L41.4,622.2 L41.4,622.2 L41.4,622.2 L41.4,622.2 L41.4,622.2 L41.4,622.2 L41.4,622.2 L41.4,622.2 L41.4,622.2 L41.4,622.2 L41.4,622.2 L41.4,622.1 L41.4,622.1 L41.4,622.1 L41.4,622.1 L41.4,622.1 L41.4,622.1 L41.4,622.0 L41.4,622.0 L41.4,622.0 L41.4,622.0 L41.4,621.9 L41.4,621.9 L41.4,621.9 L41.4,621.8 L41.4,621.8 L41.4,621.8 L41.4,621.7 L41.4,621.7 L41.4,621.6 L41.4,621.5 L41.4,621.5 L41.4,621.4 L41.4,621.3 L41.4,621.2 L41.4,621.2 L41.4,621.1 L41.4,620.9 L41.4,620.8 L41.4,620.7 L41.4,620.6 L41.4,620.4 L41.4,620.2 L41.4,620.1 L41.4,619.9 L41.4,619.6 L41.4,619.4 L41.4,619.2 L41.4,618.9 L41.4,618.6 L41.4,618.3 L41.4,617.9 L41.4,617.5 L41.4,617.1 L41.4,616.7 L41.4,616.2 L41.4,615.7 L41.4,615.1 L41.4,614.5 L41.4,613.8 L41.4,613.1 L41.4,612.3 L41.4,611.5 L41.4,610.6 L41.4,609.6 L41.4,608.5 L41.4,607.4 L41.4,606.1 L41.4,604.8 L41.4,603.4 L41.4,601.8 L41.4,600.2 L41.4,598.4 L41.4,596.5 L41.4,594.5 L41.4,592.3 L41.4,590.0 L41.4,587.5 L41.4,584.9 L41.4,582.1 L41.5,579.1 L41.5,575.9 L41.5,572.6 L41.5,569.1 L41.5,565.4 L41.6,561.6 L41.6,557.5 L41.7,553.3 L41.7,548.9 L41.8,544.3 L41.9,539.6 L42.1,534.7 L42.2,529.7 L42.4,524.5 L42.7,519.3 L43.1,513.9 L43.5,508.4 L44.0,502.8 L44.0,502.8 L45.3,493.2 L46.6,486.2 L47.9,480.8 L49.2,476.3 L50.5,472.6 L51.8,469.3 L53.1,466.5 L54.4,463.9 L55.7,461.6 L57.0,459.5 L58.3,457.6 L59.6,455.8 L60.9,454.2 L62.2,452.6 L63.5,451.2 L64.8,449.8 L66.1,448.5 L67.4,447.3 L68.7,446.2 L70.0,445.1 L71.3,444.0 L72.6,443.0 L73.9,442.0 L75.2,441.1 L76.5,440.2 L77.8,439.4 L79.1,438.5 L80.4,437.7 L81.7,436.9 L83.0,436.2 L84.3,435.5 L85.6,434.8 L86.9,434.1 L88.2,433.4 L89.5,432.8 L90.7,432.1 L92.0,431.5 L93.3,430.9 L94.6,430.3 L95.9,429.7 L97.2,429.2 L98.5,428.6 L99.8,428.1 L101.1,427.6 L102.4,427.1 L103.7,426.5 L105.0,426.1 L106.3,425.6 L107.6,425.1 L108.9,424.6 L110.2,424.2 L111.5,423.7 L112.8,423.3 L114.1,422.8 L115.4,422.4 L116.7,422.0 L118.0,421.5 L119.3,421.1 L120.6,420.7 L121.9,420.3 L123.2,419.9 L124.5,419.5 L125.8,419.1 L127.1,418.8 L128.4,418.4 L129.7,418.0 L131.0,417.6 L132.3,417.3 L133.6,416.9 L134.9,416.6 L136.2,416.2 L137.5,415.9 L138.8,415.5 L140.1,415.2 L141.4,414.8 L142.7,414.5 L144.0,414.2 L145.3,413.8 L146.5,413.5 L147.8,413.2 L149.1,412.9 L150.4,412.5 L151.7,412.2 L153.0,411.9 L154.3,411.6 L155.6,411.3 L156.9,411.0 L158.2,410.7 L159.5,410.4 L160.8,410.1 L162.1,409.8 L163.4,409.5 L164.7,409.2 L166.0,408.9 L167.3,408.6 L168.6,408.3 L169.9,408.0 L171.2,407.7 L172.5,407.4 L173.8,407.2 L175.1,406.9 L176.4,406.6 L177.7,406.3 L179.0,406.0 L180.3,405.8 L181.6,405.5 L182.9,405.2 L184.2,404.9 L185.5,404.6 L186.8,404.4 L188.1,404.1 L189.4,403.8 L190.7,403.6 L192.0,403.3 L193.3,403.0 L194.6,402.7 L195.9,402.5 L197.2,402.2 L198.5,401.9 L199.8,401.7 L201.0,401.4 L202.3,401.1 L203.6,400.9 L204.9,400.6 L206.2,400.3 L207.5,400.0 L208.8,399.8 L210.1,399.5 L211.4,399.2 L212.7,399.0 L214.0,398.7 L215.3,398.4 L216.6,398.2 L217.9,397.9 L219.2,397.6 L220.5,397.3 L221.8,397.1 L223.1,396.8 L224.4,396.5 L225.7,396.2 L227.0,396.0 L228.3,395.7 L229.6,395.4 L230.9,395.1 L232.2,394.9 L233.5,394.6 L234.8,394.3 L236.1,394.0 L237.4,393.7 L238.7,393.4 L240.0,393.1 L241.3,392.9 L242.6,392.6 L243.9,392.3 L245.2,392.0 L246.5,391.7 L247.8,391.4 L249.1,391.1 L250.4,390.8 L251.7,390.4 L253.0,390.1 L254.3,389.8 L255.6,389.5 L256.8,389.2 L258.1,388.9 L259.4,388.5 L260.7,388.2 L262.0,387.8 L263.3,387.5 L264.6,387.1 L265.9,386.8 L267.2,386.4 L268.5,386.1 L269.8,385.7 L271.1,385.3 L272.4,384.9 L273.7,384.5 L275.0,384.1 L276.3,383.7 L277.6,383.3 L278.9,382.8 L280.2,382.4 L281.5,381.9 L282.8,381.4 L284.1,380.9 L285.4,380.4 L286.7,379.9 L288.0,379.3 L289.3,378.8 L290.6,378.1 L291.9,377.5 L293.2,376.8 L294.5,376.1 L295.8,375.3 L297.1,374.4 L298.4,373.4 L299.7,372.3 L301.0,371.0 L302.3,369.3 L302.3,369.3 L302.9,368.4 L303.3,367.6 L303.6,366.9 L303.9,366.3 L304.1,365.7 L304.3,365.1 L304.4,364.6 L304.5,364.1 L304.6,363.7 L304.6,363.3 L304.7,362.9 L304.7,362.6 L304.8,362.2 L304.8,361.9 L304.8,361.7 L304.8,361.4 L304.9,361.2 L304.9,361.0 L304.9,360.8 L304.9,360.6 L304.9,360.5 L304.9,360.3 L304.9,360.2 L304.9,360.0 L304.9,359.9 L304.9,359.8 L304.9,359.7 L304.9,359.6 L304.9,359.6 L304.9,359.5 L304.9,359.4 L304.9,359.3 L304.9,359.3 L304.9,359.2 L304.9,359.2 L304.9,359.1 L304.9,359.1 L304.9,359.0 L304.9,359.0 L304.9,359.0 L304.9,358.9 L304.9,358.9 L304.9,358.9 L304.9,358.9 L304.9,358.8 L304.9,358.8 L304.9,358.8 L304.9,358.8 L304.9,358.8 L304.9,358.8 L304.9,358.7 L304.9,358.7 L304.9,358.7 L304.9,358.7 L304.9,358.7 L304.9,358.7 L304.9,358.7 L304.9,358.7 L304.9,358.7 L304.9,358.7 L304.9,358.7 L304.9,358.7 L304.9,358.7 L304.9,358.6 L304.9,358.6 L304.9,358.6 L304.9,358.6 L304.9,358.6 L304.9,358.6 L304.9,358.6 L304.9,358.6 L304.9,358.6 L304.9,358.6 L304.9,358.6 L304.9,358.6 L304.9,358.6 L304.9,358.6 L304.9,358.6 L304.9,358.6 L304.9,358.6 L304.9,358.6 L304.9,358.6 L304.9,358.6 L304.9,358.6 L304.9,358.6 L304.9,358.6 L304.9,358.6 L304.9,358.6 L304.9,358.6 L304.9,358.6 L304.9,358.6 L304.9,358.6 L304.9,358.6 L304.9,358.6 L304.9,358.6 L304.9,358.6 L304.9,358.6 L304.9,358.6 L304.9,358.6 L304.9,358.6 L304.9,358.6 L304.9,358.6 L304.9,358.6 L304.9,358.6 L304.9,358.6 L304.9,358.6 L304.9,358.6 L304.9,358.6 L304.9,358.6 L304.9,358.6 L304.9,358.6 L304.9,358.6 L304.9,358.6 L304.9,358.6 L304.9,358.6 L304.9,358.6 L304.9,358.6 L304.9,358.6 L304.9,358.6" fill="none" stroke="#1a1a1a" stroke-width="1.25"/>
<rect x="192.5" y="524.5" width="108.10000000000002" height="92.39999999999998" fill="#fff" stroke="#555" stroke-width="1"/>
<g font-size="8.2" fill="#2a2a2a">
<text x="211.7" y="537.8" textLength="47.08" lengthAdjust="spacingAndGlyphs">Observed Data</text>
<text x="211.7" y="551.2" textLength="80.53" lengthAdjust="spacingAndGlyphs">Summary Operating Point</text>
<text x="211.7" y="557.7" textLength="79.96" lengthAdjust="spacingAndGlyphs">SENS = 0.73 [0.61 - 0.82]</text>
<text x="211.7" y="564.8" textLength="79.96" lengthAdjust="spacingAndGlyphs">SPEC = 0.78 [0.51 - 0.92]</text>
<text x="211.7" y="575.0" textLength="40.84" lengthAdjust="spacingAndGlyphs">SROC Curve</text>
<text x="211.7" y="581.6" textLength="75.68" lengthAdjust="spacingAndGlyphs">AUC = 0.79 [0.76 - 0.83]</text>
<text x="211.7" y="595.1" textLength="78.21" lengthAdjust="spacingAndGlyphs">95% Confidence Contour</text>
<text x="211.7" y="609.6" textLength="73.93" lengthAdjust="spacingAndGlyphs">95% Prediction Contour</text>
</g>
<circle cx="201.2" cy="535.6" r="3.4" fill="none" stroke="#111" stroke-width="1.2"/>
<path d="M201.2,551.0 L205.6,555.4 L201.2,559.8 L196.79999999999998,555.4Z" fill="#9a3843"/>
<path d="M198.5,575.5 L203.89999999999998,575.5" stroke="#111" stroke-width="1.2"/>
<path d="M198.5,592.6 L203.89999999999998,592.6" stroke="#666" stroke-width="0.9"/>
<g stroke="#505050" stroke-width="1" fill="none">
<path d="M378.6,357.6 L378.6,625.4 M373.6,621.4 L642,621.4 L642,625.4 M510.3,621.4 L510.3,625.4 M373.6,357.6 L378.6,357.6 M373.6,489.5 L378.6,489.5"/>
</g>
<g font-size="11.8" fill="#222">
<text x="371.70000000000005" y="361.90000000000003" text-anchor="end">1.0</text>
<text x="371.70000000000005" y="493.8" text-anchor="end">0.5</text>
<text x="371.70000000000005" y="625.6999999999999" text-anchor="end">0.0</text>
<text x="378.6" y="638.8" text-anchor="middle">1.0</text>
<text x="510.3" y="638.8" text-anchor="middle">0.5</text>
<text x="642" y="638.8" text-anchor="middle">0.0</text>
</g>
<text font-size="12" fill="#222" x="510.3" y="649.6999999999999" text-anchor="middle">Specificity</text>
<text font-size="12" fill="#222" transform="translate(347.20000000000005,489.5) rotate(-90)" text-anchor="middle">Sensitivity</text>
<text font-size="12.2" fill="#363e62" x="386.1" y="353.40000000000003">SROC with Prediction &amp; Confidence Contours</text>
<text font-size="15.6" font-weight="bold" fill="#000" x="338.6" y="346.3">d</text>
<path d="M380.5,580.0 L380.4,489.5 L381.4,433.9 L381.8,402.6 L384.1,380.5 L387.8,369.3 L395.3,364.6 L408.2,362.9 M461.5,359.5 L462.5,359.8 M602.3,364.0 L609.9,368.3 L613.1,375.8 L613.1,403.7 L609.9,433.7 L606.6,448.8 L603.4,472.4 L600.2,487.4 L597.3,501.5 L592.0,520.8 L590.5,523.6 M455.5,611.4 L483.4,608.2 M496.2,604.5 L513.4,600.2 L527.5,596.0 L530.1,595.2" fill="none" stroke="#444" stroke-width="0.95" stroke-dasharray="1.1 1.9" />
<path d="M386.4,570.1 L386.4,569.6 L386.3,569.0 L386.2,568.4 L386.1,567.7 L386.0,567.1 L385.9,566.5 L385.9,565.8 L385.8,565.1 L385.7,564.4 L385.6,563.7 L385.6,563.0 L385.5,562.3 L385.5,561.6 L385.4,560.8 L385.3,560.1 L385.3,559.3 L385.2,558.5 L385.2,557.7 L385.1,556.8 L385.1,556.0 L385.0,555.2 L385.0,554.3 L384.9,553.4 L384.9,552.5 L384.8,551.6 L384.8,550.7 L384.8,549.8 L384.7,548.8 L384.7,547.8 L384.7,546.8 L384.6,545.9 L384.6,544.8 L384.6,543.8 L384.5,542.8 L384.5,541.7 L384.5,540.7 L384.5,539.6 L384.4,538.5 L384.4,537.4 L384.4,536.2 L384.4,535.1 L384.4,534.0 L384.4,532.8 L384.4,531.6 L384.3,530.4 L384.3,529.2 L384.3,528.0 L384.3,526.8 L384.3,525.5 L384.3,524.3 L384.3,523.0 L384.3,521.7 L384.3,520.4 L384.3,519.1 L384.3,517.8 L384.3,516.5 L384.3,515.2 L384.3,513.8 L384.3,512.5 L384.3,511.1 L384.3,509.8 L384.4,508.4 L384.4,507.0 L384.4,505.6 L384.4,504.2 L384.4,502.8 L384.4,501.4 L384.5,500.0 L384.5,498.6 L384.5,497.2 L384.5,495.8 L384.5,494.3 L384.6,492.9 L384.6,491.5 L384.6,490.0 L384.7,488.6 L384.7,487.1 L384.7,485.7 L384.8,484.3 L384.8,482.8 L384.8,481.4 L384.9,480.0 L384.9,478.5 L385.0,477.1 L385.0,475.7 L385.1,474.2 L385.1,472.8 L385.2,471.4 L385.2,470.0 L385.3,468.6 L385.3,467.2 L385.4,465.8 L385.5,464.4 L385.5,463.0 L385.6,461.6 L385.7,460.3 L385.7,458.9 L385.8,457.6 L385.9,456.2 L386.0,454.9 L386.0,453.6 L386.1,452.3 L386.2,451.0 L386.3,449.7 L386.4,448.4 L386.5,447.1 L386.6,445.9 L386.7,444.6 L386.8,443.4 L386.9,442.2 L387.0,441.0 L387.1,439.8 L387.2,438.6 L387.3,437.4 L387.4,436.3 L387.5,435.2 L387.7,434.0 L387.8,432.9 L387.9,431.8 L388.0,430.7 L388.2,429.7 L388.3,428.6 L388.5,427.6 L388.6,426.6 L388.8,425.5 L388.9,424.5 L389.1,423.6 L389.2,422.6 L389.4,421.6 L389.6,420.7 L389.8,419.8 L389.9,418.9 L390.1,418.0 L390.3,417.1 L390.5,416.2 L390.7,415.4 L390.9,414.5 L391.1,413.7 L391.3,412.9 L391.6,412.1 L391.8,411.3 L392.0,410.6 L392.3,409.8 L392.5,409.1 L392.8,408.4 L393.0,407.6 L393.3,406.9 L393.5,406.3 L393.8,405.6 L394.1,404.9 L394.4,404.3 L394.7,403.6 L395.0,403.0 L395.3,402.4 L395.6,401.8 L395.9,401.2 L396.3,400.7 L396.6,400.1 L396.9,399.5 L397.3,399.0 L397.7,398.5 L398.0,398.0 L398.4,397.4 L398.8,397.0 L399.2,396.5 L399.6,396.0 L400.0,395.5 L400.5,395.1 L400.9,394.6 L401.3,394.2 L401.8,393.8 L402.2,393.4 L402.7,393.0 L403.2,392.6 L403.7,392.2 L404.2,391.8 L404.7,391.5 L405.2,391.1 L405.8,390.7 L406.3,390.4 L406.9,390.1 L407.5,389.8 L408.0,389.4 L408.6,389.1 L409.2,388.8 L409.8,388.5 L410.5,388.3 L411.1,388.0 L411.8,387.7 L412.4,387.5 L413.1,387.2 L413.8,387.0 L414.5,386.7 L415.2,386.5 L415.9,386.3 L416.7,386.0 L417.4,385.8 L418.2,385.6 L419.0,385.4 L419.8,385.2 L420.6,385.1 L421.4,384.9 L422.2,384.7 L423.0,384.5 L423.9,384.4 L424.8,384.2 L425.6,384.1 L426.5,383.9 L427.4,383.8 L428.3,383.7 L429.3,383.6 L430.2,383.4 L431.2,383.3 L432.1,383.2 L433.1,383.1 L434.1,383.0 L435.1,382.9 L436.1,382.9 L437.1,382.8 L438.2,382.7 L439.2,382.6 L440.3,382.6 L441.3,382.5 L442.4,382.5 L443.5,382.4 L444.6,382.4 L445.7,382.3 L446.8,382.3 L447.9,382.3 L449.1,382.3 L450.2,382.2 L451.4,382.2 L452.5,382.2 L453.7,382.2 L454.8,382.2 L456.0,382.2 L457.2,382.3 L458.4,382.3 L459.6,382.3 L460.8,382.3 L462.0,382.4 L463.2,382.4 L464.4,382.4 L465.6,382.5 L466.8,382.6 L468.0,382.6 L469.2,382.7 L470.4,382.8 L471.7,382.8 L472.9,382.9 L474.1,383.0 L475.3,383.1 L476.5,383.2 L477.8,383.3 L479.0,383.4 L480.2,383.5 L481.4,383.6 L482.6,383.8 L483.8,383.9 L485.0,384.0 L486.2,384.2 L487.4,384.3 L488.6,384.5 L489.8,384.7 L491.0,384.8 L492.1,385.0 L493.3,385.2 L494.4,385.4 L495.6,385.6 L496.7,385.8 L497.9,386.0 L499.0,386.2 L500.1,386.4 L501.2,386.7 L502.3,386.9 L503.4,387.1 L504.5,387.4 L505.5,387.6 L506.6,387.9 L507.6,388.2 L508.7,388.5 L509.7,388.7 L510.7,389.0 L511.7,389.3 L512.7,389.7 L513.7,390.0 L514.6,390.3 L515.6,390.6 L516.5,391.0 L517.4,391.3 L518.3,391.7 L519.2,392.1 L520.1,392.5 L521.0,392.9 L521.8,393.3 L522.7,393.7 L523.5,394.1 L524.3,394.5 L525.1,395.0 L525.9,395.4 L526.7,395.9 L527.4,396.3 L528.2,396.8 L528.9,397.3 L529.6,397.8 L530.3,398.3 L531.0,398.8 L531.7,399.4 L532.3,399.9 L532.9,400.5 L533.6,401.1 L534.2,401.6 L534.8,402.2 L535.3,402.8 L535.9,403.5 L536.5,404.1 L537.0,404.7 L537.5,405.4 L538.0,406.1 L538.5,406.7 L539.0,407.4 L539.4,408.1 L539.9,408.9 L540.3,409.6 L540.7,410.4 L541.1,411.1 L541.5,411.9 L541.9,412.7 L542.2,413.5 L542.5,414.3 L542.9,415.1 L543.2,416.0 L543.5,416.8 L543.8,417.7 L544.0,418.6 L544.3,419.5 L544.5,420.4 L544.7,421.4 L544.9,422.3 L545.1,423.3 L545.3,424.3 L545.4,425.3 L545.6,426.3 L545.7,427.3 L545.8,428.3 L545.9,429.4 L546.0,430.4 L546.1,431.5 L546.2,432.6 L546.2,433.7 L546.2,434.8 L546.2,436.0 L546.2,437.1 L546.2,438.3 L546.2,439.4 L546.1,440.6 L546.1,441.8 L546.0,443.0 L545.9,444.3 L545.8,445.5 L545.7,446.8 L545.6,448.0 L545.4,449.3 L545.3,450.6 L545.1,451.9 L544.9,453.2 L544.7,454.5 L544.5,455.8 L544.2,457.2 L544.0,458.5 L543.7,459.9 L543.4,461.2 L543.1,462.6 L542.8,464.0 L542.5,465.4 L542.1,466.8 L541.8,468.2 L541.4,469.6 L541.0,471.0 L540.6,472.4 L540.2,473.8 L539.8,475.2 L539.3,476.7 L538.9,478.1 L538.4,479.5 L537.9,481.0 L537.4,482.4 L536.9,483.9 L536.3,485.3 L535.8,486.7 L535.2,488.2 L534.6,489.6 L534.1,491.0 L533.4,492.5 L532.8,493.9 L532.2,495.3 L531.5,496.8 L530.8,498.2 L530.2,499.6 L529.5,501.0 L528.7,502.4 L528.0,503.8 L527.3,505.2 L526.5,506.6 L525.7,508.0 L525.0,509.4 L524.2,510.8 L523.3,512.1 L522.5,513.5 L521.7,514.8 L520.8,516.1 L519.9,517.5 L519.0,518.8 L518.1,520.1 L517.2,521.4 L516.3,522.6 L515.4,523.9 L514.4,525.2 L513.5,526.4 L512.5,527.6 L511.5,528.9 L510.5,530.1 L509.5,531.3 L508.5,532.5 L507.4,533.6 L506.4,534.8 L505.3,535.9 L504.2,537.0 L503.2,538.2 L502.1,539.3 L501.0,540.3 L499.9,541.4 L498.8,542.5 L497.6,543.5 L496.5,544.5 L495.4,545.6 L494.2,546.6 L493.0,547.5 L491.9,548.5 L490.7,549.5 L489.5,550.4 L488.4,551.3 L487.2,552.3 L486.0,553.2 L484.8,554.0 L483.6,554.9 L482.4,555.8 L481.2,556.6 L479.9,557.4 L478.7,558.2 L477.5,559.0 L476.3,559.8 L475.1,560.6 L473.9,561.4 L472.6,562.1 L471.4,562.8 L470.2,563.5 L469.0,564.2 L467.8,564.9 L466.5,565.6 L465.3,566.3 L464.1,566.9 L462.9,567.6 L461.7,568.2 L460.5,568.8 L459.3,569.4 L458.1,570.0 L456.9,570.5 L455.8,571.1 L454.6,571.7 L453.4,572.2 L452.3,572.7 L451.1,573.2 L450.0,573.7 L448.8,574.2 L447.7,574.7 L446.6,575.2 L445.5,575.6 L444.4,576.1 L443.3,576.5 L442.2,576.9 L441.1,577.4 L440.1,577.8 L439.0,578.2 L438.0,578.5 L436.9,578.9 L435.9,579.3 L434.9,579.6 L433.9,580.0 L432.9,580.3 L431.9,580.7 L431.0,581.0 L430.0,581.3 L429.1,581.6 L428.2,581.9 L427.2,582.2 L426.3,582.4 L425.5,582.7 L424.6,582.9 L423.7,583.2 L422.9,583.4 L422.0,583.7 L421.2,583.9 L420.4,584.1 L419.6,584.3 L418.8,584.5 L418.0,584.7 L417.3,584.9 L416.5,585.1 L415.8,585.2 L415.1,585.4 L414.4,585.5 L413.7,585.7 L413.0,585.8 L412.3,586.0 L411.6,586.1 L411.0,586.2 L410.3,586.3 L409.7,586.4 L409.1,586.5 L408.5,586.6 L407.9,586.7 L407.3,586.7 L406.8,586.8 L406.2,586.9 L405.7,586.9 L405.1,587.0 L404.6,587.0 L404.1,587.0 L403.6,587.1 L403.1,587.1 L402.6,587.1 L402.2,587.1 L401.7,587.1 L401.2,587.1 L400.8,587.1 L400.4,587.0 L399.9,587.0 L399.5,587.0 L399.1,586.9 L398.7,586.9 L398.3,586.8 L398.0,586.8 L397.6,586.7 L397.2,586.6 L396.9,586.5 L396.5,586.4 L396.2,586.3 L395.9,586.2 L395.5,586.1 L395.2,586.0 L394.9,585.9 L394.6,585.7 L394.3,585.6 L394.0,585.4 L393.8,585.3 L393.5,585.1 L393.2,584.9 L393.0,584.8 L392.7,584.6 L392.5,584.4 L392.2,584.2 L392.0,584.0 L391.7,583.7 L391.5,583.5 L391.3,583.3 L391.1,583.0 L390.9,582.8 L390.7,582.5 L390.5,582.2 L390.3,582.0 L390.1,581.7 L389.9,581.4 L389.7,581.1 L389.5,580.7 L389.4,580.4 L389.2,580.1 L389.0,579.7 L388.9,579.4 L388.7,579.0 L388.6,578.7 L388.4,578.3 L388.3,577.9 L388.2,577.5 L388.0,577.1 L387.9,576.6 L387.8,576.2 L387.6,575.8 L387.5,575.3 L387.4,574.8 L387.3,574.4 L387.2,573.9 L387.0,573.4 L386.9,572.9 L386.8,572.3 L386.7,571.8 L386.6,571.3 L386.5,570.7 L386.4,570.1Z" fill="none" stroke="#555" stroke-width="1" stroke-dasharray="5.5 3" />
<circle cx="407.1" cy="438.7" r="3.3" fill="#fff" fill-opacity="0" stroke="#1a1a1a" stroke-width="1.1"/>
<text x="407.1" y="440.2" font-size="4.2" fill="#888" text-anchor="middle">1</text>
<circle cx="417.9" cy="458" r="3.3" fill="#fff" fill-opacity="0" stroke="#1a1a1a" stroke-width="1.1"/>
<text x="417.9" y="459.5" font-size="4.2" fill="#888" text-anchor="middle">2</text>
<circle cx="450.7" cy="459.7" r="3.3" fill="#fff" fill-opacity="0" stroke="#1a1a1a" stroke-width="1.1"/>
<text x="450.7" y="461.2" font-size="4.2" fill="#888" text-anchor="middle">3</text>
<circle cx="405" cy="542.3" r="3.3" fill="#fff" fill-opacity="0" stroke="#1a1a1a" stroke-width="1.1"/>
<text x="405" y="543.8" font-size="4.2" fill="#888" text-anchor="middle">4</text>
<path d="M422.8,472.90000000000003 L427.0,477.1 L422.8,481.3 L418.6,477.1Z" fill="#9a3843"/>
<path d="M378.6,621.4 L378.6,621.4 L378.6,621.4 L378.6,621.4 L378.6,621.4 L378.6,621.4 L378.6,621.4 L378.6,621.4 L378.6,621.4 L378.6,621.4 L378.6,621.4 L378.6,621.4 L378.6,621.4 L378.6,621.4 L378.6,621.4 L378.6,621.4 L378.6,621.4 L378.6,621.4 L378.6,621.4 L378.6,621.4 L378.6,621.4 L378.6,621.4 L378.6,621.4 L378.6,621.4 L378.6,621.4 L378.6,621.4 L378.6,621.4 L378.6,621.4 L378.6,621.4 L378.6,621.4 L378.6,621.4 L378.6,621.4 L378.6,621.4 L378.6,621.4 L378.6,621.4 L378.6,621.4 L378.6,621.4 L378.6,621.4 L378.6,621.4 L378.6,621.4 L378.6,621.4 L378.6,621.4 L378.6,621.4 L378.6,621.4 L378.6,621.4 L378.6,621.4 L378.6,621.4 L378.6,621.4 L378.6,621.4 L378.6,621.4 L378.6,621.4 L378.6,621.4 L378.6,621.4 L378.6,621.4 L378.6,621.4 L378.6,621.4 L378.6,621.4 L378.6,621.4 L378.6,621.4 L378.6,621.4 L378.6,621.4 L378.6,621.4 L378.6,621.4 L378.6,621.4 L378.6,621.4 L378.6,621.4 L378.6,621.4 L378.6,621.4 L378.6,621.4 L378.6,621.4 L378.6,621.4 L378.6,621.4 L378.6,621.4 L378.6,621.4 L378.6,621.4 L378.6,621.4 L378.6,621.4 L378.6,621.4 L378.6,621.4 L378.6,621.4 L378.6,621.4 L378.6,621.4 L378.6,621.4 L378.6,621.4 L378.6,621.4 L378.6,621.4 L378.6,621.4 L378.6,621.4 L378.6,621.4 L378.6,621.4 L378.6,621.4 L378.6,621.4 L378.6,621.4 L378.6,621.4 L378.6,621.4 L378.6,621.4 L378.6,621.4 L378.6,621.4 L378.6,621.4 L378.6,621.4 L378.6,621.4 L378.6,621.4 L378.7,621.4 L378.7,621.3 L378.7,621.3 L378.7,621.3 L378.7,621.3 L378.8,621.2 L378.8,621.2 L378.9,621.1 L378.9,621.0 L379.0,620.8 L379.1,620.6 L379.3,620.3 L379.4,619.9 L379.6,619.4 L379.9,618.7 L380.3,617.8 L380.7,616.5 L381.2,614.8 L381.2,614.8 L382.5,610.5 L383.8,605.8 L385.1,600.9 L386.4,595.8 L387.7,590.7 L389.0,585.5 L390.3,580.3 L391.6,575.1 L392.9,570.0 L394.2,564.9 L395.5,559.9 L396.8,554.9 L398.1,550.0 L399.4,545.2 L400.7,540.5 L402.0,535.9 L403.3,531.5 L404.6,527.1 L405.9,522.8 L407.2,518.6 L408.5,514.5 L409.8,510.6 L411.1,506.7 L412.4,502.9 L413.7,499.3 L415.0,495.7 L416.3,492.2 L417.6,488.8 L418.9,485.6 L420.1,482.4 L421.4,479.3 L422.7,476.2 L424.0,473.3 L425.3,470.4 L426.6,467.7 L427.9,465.0 L429.2,462.3 L430.5,459.8 L431.8,457.3 L433.1,454.9 L434.4,452.5 L435.7,450.3 L437.0,448.0 L438.3,445.9 L439.6,443.8 L440.9,441.7 L442.2,439.7 L443.5,437.8 L444.8,435.9 L446.1,434.1 L447.4,432.3 L448.7,430.5 L450.0,428.8 L451.3,427.2 L452.6,425.6 L453.9,424.0 L455.2,422.5 L456.5,421.0 L457.8,419.5 L459.1,418.1 L460.4,416.7 L461.7,415.4 L463.0,414.1 L464.3,412.8 L465.5,411.5 L466.8,410.3 L468.1,409.1 L469.4,408.0 L470.7,406.8 L472.0,405.7 L473.3,404.6 L474.6,403.6 L475.9,402.6 L477.2,401.6 L478.5,400.6 L479.8,399.6 L481.1,398.7 L482.4,397.8 L483.7,396.9 L485.0,396.0 L486.3,395.1 L487.6,394.3 L488.9,393.5 L490.2,392.7 L491.5,391.9 L492.8,391.1 L494.1,390.4 L495.4,389.6 L496.7,388.9 L498.0,388.2 L499.3,387.5 L500.6,386.8 L501.9,386.2 L503.2,385.5 L504.5,384.9 L505.8,384.3 L507.1,383.7 L508.4,383.1 L509.7,382.5 L510.9,381.9 L512.2,381.4 L513.5,380.8 L514.8,380.3 L516.1,379.8 L517.4,379.3 L518.7,378.8 L520.0,378.3 L521.3,377.8 L522.6,377.3 L523.9,376.9 L525.2,376.4 L526.5,376.0 L527.8,375.5 L529.1,375.1 L530.4,374.7 L531.7,374.3 L533.0,373.9 L534.3,373.5 L535.6,373.1 L536.9,372.7 L538.2,372.3 L539.5,372.0 L540.8,371.6 L542.1,371.2 L543.4,370.9 L544.7,370.6 L546.0,370.2 L547.3,369.9 L548.6,369.6 L549.9,369.3 L551.2,368.9 L552.5,368.6 L553.8,368.3 L555.1,368.1 L556.3,367.8 L557.6,367.5 L558.9,367.2 L560.2,366.9 L561.5,366.7 L562.8,366.4 L564.1,366.2 L565.4,365.9 L566.7,365.7 L568.0,365.4 L569.3,365.2 L570.6,365.0 L571.9,364.7 L573.2,364.5 L574.5,364.3 L575.8,364.1 L577.1,363.9 L578.4,363.6 L579.7,363.4 L581.0,363.2 L582.3,363.0 L583.6,362.9 L584.9,362.7 L586.2,362.5 L587.5,362.3 L588.8,362.1 L590.1,362.0 L591.4,361.8 L592.7,361.6 L594.0,361.5 L595.3,361.3 L596.6,361.1 L597.9,361.0 L599.2,360.8 L600.5,360.7 L601.7,360.5 L603.0,360.4 L604.3,360.3 L605.6,360.1 L606.9,360.0 L608.2,359.9 L609.5,359.7 L610.8,359.6 L612.1,359.5 L613.4,359.4 L614.7,359.3 L616.0,359.1 L617.3,359.0 L618.6,358.9 L619.9,358.8 L621.2,358.7 L622.5,358.6 L623.8,358.5 L625.1,358.4 L626.4,358.4 L627.7,358.3 L629.0,358.2 L630.3,358.1 L631.6,358.0 L632.9,358.0 L634.2,357.9 L635.5,357.8 L636.8,357.8 L638.1,357.7 L639.4,357.7 L639.4,357.7 L640.0,357.7 L640.4,357.6 L640.7,357.6 L641.0,357.6 L641.2,357.6 L641.4,357.6 L641.5,357.6 L641.6,357.6 L641.7,357.6 L641.7,357.6 L641.8,357.6 L641.8,357.6 L641.9,357.6 L641.9,357.6 L641.9,357.6 L641.9,357.6 L642.0,357.6 L642.0,357.6 L642.0,357.6 L642.0,357.6 L642.0,357.6 L642.0,357.6 L642.0,357.6 L642.0,357.6 L642.0,357.6 L642.0,357.6 L642.0,357.6 L642.0,357.6 L642.0,357.6 L642.0,357.6 L642.0,357.6 L642.0,357.6 L642.0,357.6 L642.0,357.6 L642.0,357.6 L642.0,357.6 L642.0,357.6 L642.0,357.6 L642.0,357.6 L642.0,357.6 L642.0,357.6 L642.0,357.6 L642.0,357.6 L642.0,357.6 L642.0,357.6 L642.0,357.6 L642.0,357.6 L642.0,357.6 L642.0,357.6 L642.0,357.6 L642.0,357.6 L642.0,357.6 L642.0,357.6 L642.0,357.6 L642.0,357.6 L642.0,357.6 L642.0,357.6 L642.0,357.6 L642.0,357.6 L642.0,357.6 L642.0,357.6 L642.0,357.6 L642.0,357.6 L642.0,357.6 L642.0,357.6 L642.0,357.6 L642.0,357.6 L642.0,357.6 L642.0,357.6 L642.0,357.6 L642.0,357.6 L642.0,357.6 L642.0,357.6 L642.0,357.6 L642.0,357.6 L642.0,357.6 L642.0,357.6 L642.0,357.6 L642.0,357.6 L642.0,357.6 L642.0,357.6 L642.0,357.6 L642.0,357.6 L642.0,357.6 L642.0,357.6 L642.0,357.6 L642.0,357.6 L642.0,357.6 L642.0,357.6 L642.0,357.6 L642.0,357.6 L642.0,357.6 L642.0,357.6 L642.0,357.6 L642.0,357.6 L642.0,357.6 L642.0,357.6 L642.0,357.6 L642.0,357.6 L642.0,357.6 L642.0,357.6 L642.0,357.6 L642.0,357.6 L642.0,357.6 L642.0,357.6 L642.0,357.6 L642.0,357.6 L642.0,357.6 L642.0,357.6 L642.0,357.6 L642.0,357.6 L642.0,357.6 L642.0,357.6 L642.0,357.6 L642.0,357.6 L642.0,357.6 L642.0,357.6 L642.0,357.6 L642.0,357.6" fill="none" stroke="#1a1a1a" stroke-width="1.25"/>
<rect x="530.1" y="523.6" width="108.5" height="93.19999999999993" fill="#fff" stroke="#555" stroke-width="1"/>
<g font-size="8.2" fill="#2a2a2a">
<text x="549.3000000000001" y="536.9" textLength="47.08" lengthAdjust="spacingAndGlyphs">Observed Data</text>
<text x="549.3000000000001" y="550.3000000000001" textLength="80.53" lengthAdjust="spacingAndGlyphs">Summary Operating Point</text>
<text x="549.3000000000001" y="556.8000000000001" textLength="79.96" lengthAdjust="spacingAndGlyphs">SENS = 0.55 [0.38 - 0.70]</text>
<text x="549.3000000000001" y="563.9" textLength="79.96" lengthAdjust="spacingAndGlyphs">SPEC = 0.83 [0.72 - 0.91]</text>
<text x="549.3000000000001" y="574.1" textLength="40.84" lengthAdjust="spacingAndGlyphs">SROC Curve</text>
<text x="549.3000000000001" y="580.7" textLength="75.68" lengthAdjust="spacingAndGlyphs">AUC = 0.79 [0.75 - 0.83]</text>
<text x="549.3000000000001" y="594.2" textLength="78.21" lengthAdjust="spacingAndGlyphs">95% Confidence Contour</text>
<text x="549.3000000000001" y="608.7" textLength="73.93" lengthAdjust="spacingAndGlyphs">95% Prediction Contour</text>
</g>
<circle cx="538.8000000000001" cy="534.7" r="3.4" fill="none" stroke="#111" stroke-width="1.2"/>
<path d="M538.8000000000001,550.1 L543.2,554.5 L538.8000000000001,558.9 L534.4000000000001,554.5Z" fill="#9a3843"/>
<path d="M536.1,574.6 L541.5000000000001,574.6" stroke="#111" stroke-width="1.2"/>
<path d="M536.1,591.7 L541.5000000000001,591.7" stroke="#666" stroke-width="0.9"/>
<g stroke="#505050" stroke-width="1" fill="none">
<path d="M41.4,694.8 L41.4,962.7 M36.4,958.7 L304.8,958.7 L304.8,962.7 M173.1,958.7 L173.1,962.7 M36.4,694.8 L41.4,694.8 M36.4,826.75 L41.4,826.75"/>
</g>
<g font-size="11.8" fill="#222">
<text x="34.5" y="699.0999999999999" text-anchor="end">1.0</text>
<text x="34.5" y="831.05" text-anchor="end">0.5</text>
<text x="34.5" y="963.0" text-anchor="end">0.0</text>
<text x="41.4" y="976.1" text-anchor="middle">1.0</text>
<text x="173.1" y="976.1" text-anchor="middle">0.5</text>
<text x="304.8" y="976.1" text-anchor="middle">0.0</text>
</g>
<text font-size="12" fill="#222" x="173.1" y="987.0" text-anchor="middle">Specificity</text>
<text font-size="12" fill="#222" transform="translate(10.0,826.75) rotate(-90)" text-anchor="middle">Sensitivity</text>
<text font-size="12.2" fill="#363e62" x="48.5" y="689.6999999999999">SROC with Prediction &amp; Confidence Contours</text>
<text font-size="15.6" font-weight="bold" fill="#000" x="1.9" y="685.4">e</text>
<path d="M46.1,730.1 L46.2,729.4 L46.3,728.8 L46.4,728.1 L46.5,727.5 L46.6,726.9 L46.7,726.3 L46.8,725.7 L46.9,725.2 L47.1,724.6 L47.2,724.1 L47.3,723.6 L47.4,723.0 L47.6,722.5 L47.7,722.1 L47.9,721.6 L48.0,721.1 L48.2,720.7 L48.3,720.2 L48.5,719.8 L48.6,719.4 L48.8,718.9 L49.0,718.5 L49.2,718.1 L49.4,717.8 L49.6,717.4 L49.8,717.0 L50.0,716.7 L50.2,716.3 L50.4,716.0 L50.7,715.7 L50.9,715.3 L51.1,715.0 L51.4,714.7 L51.7,714.4 L51.9,714.1 L52.2,713.9 L52.5,713.6 L52.8,713.3 L53.1,713.1 L53.4,712.8 L53.7,712.6 L54.1,712.3 L54.4,712.1 L54.8,711.9 L55.2,711.7 L55.5,711.4 L55.9,711.2 L56.3,711.0 L56.8,710.8 L57.2,710.7 L57.6,710.5 L58.1,710.3 L58.6,710.1 L59.1,710.0 L59.6,709.8 L60.1,709.6 L60.6,709.5 L61.2,709.3 L61.7,709.2 L62.3,709.1 L62.9,708.9 M44.0,803.9 L44.0,802.3 L44.0,800.6 L44.0,799.0 L44.0,797.4 L44.0,795.9 L44.0,794.3 L44.0,792.7 L44.0,791.1 L44.0,789.6 L44.0,788.0 L44.0,786.5 L44.0,785.0 L44.1,783.5 L44.1,782.0 L44.1,780.5 L44.1,779.1 L44.1,777.6 L44.1,776.2 L44.1,774.7 L44.2,773.3 L44.2,771.9 L44.2,770.6 L44.2,769.2 L44.2,767.9 L44.3,766.5 L44.3,765.2 L44.3,763.9 L44.3,762.7 L44.4,761.4 L44.4,760.2 L44.4,759.0 L44.4,757.8 L44.5,756.6 L44.5,755.4 L44.5,754.3 L44.6,753.1 L44.6,752.0 L44.7,750.9 L44.7,749.9 L44.7,748.8 L44.8,747.8 L44.8,746.8 L44.9,745.8 L44.9,744.8 L45.0,743.8 L45.0,742.9 L45.1,741.9 L45.1,741.0 L45.2,740.1 L45.2,739.3 L45.3,738.4 L45.4,737.6 L45.4,736.7 L45.5,735.9 L45.6,735.2 M185.8,710.3 L187.5,710.5 L189.2,710.7 L190.9,710.9 L192.5,711.1 L194.2,711.3 L195.8,711.5 L197.4,711.7 L199.0,711.9 L200.6,712.2 L202.1,712.4 L203.6,712.6 L205.1,712.9 L206.6,713.1 L208.1,713.4 L209.5,713.7 L210.9,713.9 L212.3,714.2 L213.7,714.5 L215.0,714.8 L216.3,715.1 L217.6,715.4 L218.9,715.7 L220.1,716.1 L221.3,716.4 L222.5,716.8 L223.7,717.1 L224.8,717.5 L226.0,717.9 L227.1,718.2 L228.1,718.6 L229.2,719.0 L230.2,719.5 L231.2,719.9 L232.2,720.3 L233.2,720.8 L234.1,721.2 L235.0,721.7 L235.9,722.2 L236.8,722.7 L237.6,723.2 L238.5,723.7 L239.3,724.2 L240.1,724.8 L240.8,725.3 L241.6,725.9 L242.3,726.5 L243.0,727.1 L243.7,727.7 L244.4,728.3 L245.0,728.9 L245.6,729.6 L246.3,730.2 L246.9,730.9 L247.4,731.6 L248.0,732.3 L248.5,733.1 L249.0,733.8 L249.5,734.6 L250.0,735.3 L250.5,736.1 L251.0,736.9 L251.4,737.8 L251.8,738.6 L252.2,739.5 L252.6,740.4 L253.0,741.2 L253.3,742.2 L253.7,743.1 L254.0,744.0 L254.3,745.0 L254.6,746.0 L254.9,747.0 L255.2,748.0 L255.4,749.1 L255.7,750.1 L255.9,751.2 L256.1,752.3 L256.3,753.4 L256.5,754.5 L256.7,755.7 L256.8,756.9 L257.0,758.0 L257.1,759.2 L257.2,760.5 L257.3,761.7 L257.4,763.0 L257.5,764.2 L257.5,765.5 L257.6,766.9 L257.6,768.2 L257.7,769.5 L257.7,770.9 L257.7,772.3 L257.6,773.7 L257.6,775.1 L257.6,776.5 L257.5,777.9 L257.5,779.4 L257.4,780.9 L257.3,782.4 L257.2,783.9 L257.1,785.4 L256.9,786.9 L256.8,788.4 L256.6,790.0 L256.4,791.5 L256.3,793.1 L256.1,794.7 L255.8,796.2 M253.3,810.8 L252.9,812.4 L252.5,814.1 L252.1,815.7 L251.7,817.3 L251.3,819.0 L250.8,820.6 L250.4,822.2 L249.9,823.9 L249.4,825.5 L248.9,827.1 L248.4,828.7 L247.8,830.4 L247.3,832.0 L246.7,833.6 L246.1,835.2 L245.5,836.7 L244.9,838.3 L244.2,839.9 L243.5,841.4 L242.8,843.0 L242.1,844.5 L241.4,846.1 L240.6,847.6 L239.9,849.1 L239.1,850.6 L238.3,852.0 L237.4,853.5 L236.6,855.0 L235.7,856.4 L234.8,857.8 M192.1,895.1 L190.4,895.9 L188.8,896.7 L187.1,897.5 L185.3,898.3 L183.6,899.0 L181.8,899.8 L180.0,900.5 L178.3,901.2 L176.5,901.9 L174.6,902.6 L172.8,903.3 L171.0,903.9 L169.1,904.6 L167.3,905.2 L165.4,905.8 L163.5,906.4 L161.7,907.0 L159.8,907.5 L157.9,908.1 L156.0,908.6 L154.1,909.1 L152.2,909.7 L150.3,910.2 L148.4,910.6 L146.5,911.1 L144.6,911.6 L142.8,912.0 L140.9,912.4 L139.0,912.9 L137.2,913.3 L135.3,913.7 L133.5,914.1 L131.6,914.4 L129.8,914.8 L128.0,915.1 L126.2,915.5 L124.4,915.8 L122.7,916.1 L120.9,916.4 L119.2,916.7 L117.5,917.0 L115.8,917.3 L114.1,917.6 L112.5,917.8 L110.8,918.1 L109.2,918.3 L107.6,918.5 L106.1,918.7 L104.5,918.9 L103.0,919.1 L101.5,919.3 L100.0,919.5 L98.6,919.7 L97.2,919.8 L95.8,920.0 L94.4,920.1 L93.0,920.2 L91.7,920.4 L90.4,920.5 L89.2,920.6 L87.9,920.7 L86.7,920.8 L85.5,920.8 L84.3,920.9 L83.2,921.0 L82.1,921.0 L81.0,921.0 L79.9,921.1 L78.9,921.1 L77.9,921.1 L76.9,921.1 L75.9,921.1 L74.9,921.1 L74.0,921.1 L73.1,921.1 L72.2,921.0 L71.4,921.0 L70.6,920.9 L69.7,920.9 L69.0,920.8 L68.2,920.7 L67.4,920.6 L66.7,920.5 L66.0,920.4 L65.3,920.3 L64.7,920.2 L64.0,920.1 L63.4,919.9 L62.8,919.8 L62.2,919.6 L61.6,919.5 L61.0,919.3 L60.5,919.1 L59.9,918.9 L59.4,918.7 L58.9,918.5 L58.4,918.2 L58.0,918.0 L57.5,917.8 L57.1,917.5 L56.7,917.2 L56.2,916.9 L55.8,916.7 L55.4,916.4 L55.1,916.1 L54.7,915.7 L54.3,915.4 L54.0,915.1 L53.7,914.7 L53.3,914.3 L53.0,914.0 L52.7,913.6 L52.4,913.2 L52.1,912.8 L51.9,912.3 L51.6,911.9 L51.3,911.5 L51.1,911.0 L50.8,910.5 L50.6,910.0 L50.4,909.5 L50.1,909.0 L49.9,908.5 L49.7,908.0 L49.5,907.4 L49.3,906.8 L49.1,906.2 L49.0,905.6 L48.8,905.0 L48.6,904.4 L48.4,903.8 L48.3,903.1 L48.1,902.4 L48.0,901.8 L47.8,901.1 L47.7,900.3 L47.5,899.6 L47.4,898.8 L47.3,898.1 L47.2,897.3 L47.0,896.5 L46.9,895.7 L46.8,894.9 L46.7,894.0 L46.6,893.1 L46.5,892.2 L46.4,891.3 L46.3,890.4 L46.2,889.5 L46.1,888.5 L46.0,887.6 L45.9,886.6" fill="none" stroke="#444" stroke-width="0.95" stroke-dasharray="1.1 1.9" />
<path d="M119.2,707.2 L120.2,707.2" fill="none" stroke="#444" stroke-width="0.95" stroke-dasharray="1.1 1.9" />
<path d="M59.4,830.7 L59.3,830.3 L59.2,830.0 L59.2,829.6 L59.1,829.2 L59.1,828.8 L59.0,828.4 L59.0,827.9 L58.9,827.5 L58.9,827.1 L58.9,826.7 L58.8,826.3 L58.8,825.8 L58.7,825.4 L58.7,824.9 L58.7,824.5 L58.7,824.0 L58.6,823.6 L58.6,823.1 L58.6,822.7 L58.6,822.2 L58.5,821.7 L58.5,821.3 L58.5,820.8 L58.5,820.3 L58.5,819.8 L58.5,819.3 L58.5,818.8 L58.5,818.3 L58.5,817.8 L58.5,817.3 L58.5,816.8 L58.5,816.3 L58.5,815.8 L58.5,815.3 L58.5,814.8 L58.5,814.3 L58.5,813.7 L58.5,813.2 L58.6,812.7 L58.6,812.2 L58.6,811.6 L58.6,811.1 L58.7,810.6 L58.7,810.0 L58.7,809.5 L58.7,808.9 L58.8,808.4 L58.8,807.9 L58.9,807.3 L58.9,806.8 L58.9,806.2 L59.0,805.7 L59.0,805.1 L59.1,804.5 L59.1,804.0 L59.2,803.4 L59.2,802.9 L59.3,802.3 L59.3,801.8 L59.4,801.2 L59.5,800.6 L59.5,800.1 L59.6,799.5 L59.7,799.0 L59.7,798.4 L59.8,797.8 L59.9,797.3 L60.0,796.7 L60.1,796.2 L60.1,795.6 L60.2,795.0 L60.3,794.5 L60.4,793.9 L60.5,793.3 L60.6,792.8 L60.7,792.2 L60.8,791.7 L60.9,791.1 L61.0,790.6 L61.1,790.0 L61.2,789.5 L61.3,788.9 L61.5,788.4 L61.6,787.8 L61.7,787.3 L61.8,786.7 L61.9,786.2 L62.1,785.6 L62.2,785.1 L62.3,784.5 L62.5,784.0 L62.6,783.5 L62.8,782.9 L62.9,782.4 L63.0,781.9 L63.2,781.3 L63.3,780.8 L63.5,780.3 L63.7,779.8 L63.8,779.3 L64.0,778.7 L64.2,778.2 L64.3,777.7 L64.5,777.2 L64.7,776.7 L64.9,776.2 L65.0,775.7 L65.2,775.2 L65.4,774.7 L65.6,774.2 L65.8,773.7 L66.0,773.3 L66.2,772.8 L66.4,772.3 L66.6,771.8 L66.8,771.4 L67.1,770.9 L67.3,770.4 L67.5,770.0 L67.7,769.5 L68.0,769.1 L68.2,768.6 L68.4,768.2 L68.7,767.7 L68.9,767.3 L69.2,766.8 L69.4,766.4 L69.7,766.0 L69.9,765.6 L70.2,765.1 L70.4,764.7 L70.7,764.3 L71.0,763.9 L71.3,763.5 L71.5,763.1 L71.8,762.7 L72.1,762.3 L72.4,761.9 L72.7,761.5 L73.0,761.2 L73.3,760.8 L73.6,760.4 L73.9,760.0 L74.2,759.7 L74.6,759.3 L74.9,759.0 L75.2,758.6 L75.5,758.3 L75.9,757.9 L76.2,757.6 L76.6,757.2 L76.9,756.9 L77.3,756.6 L77.6,756.3 L78.0,756.0 L78.3,755.6 L78.7,755.3 L79.1,755.0 L79.4,754.7 L79.8,754.4 L80.2,754.1 L80.6,753.8 L81.0,753.6 L81.4,753.3 L81.8,753.0 L82.2,752.7 L82.6,752.5 L83.0,752.2 L83.4,751.9 L83.8,751.7 L84.2,751.4 L84.7,751.2 L85.1,750.9 L85.5,750.7 L86.0,750.5 L86.4,750.2 L86.9,750.0 L87.3,749.8 L87.8,749.6 L88.2,749.3 L88.7,749.1 L89.1,748.9 L89.6,748.7 L90.1,748.5 L90.5,748.3 L91.0,748.1 L91.5,748.0 L92.0,747.8 L92.4,747.6 L92.9,747.4 L93.4,747.3 L93.9,747.1 L94.4,746.9 L94.9,746.8 L95.4,746.6 L95.9,746.5 L96.4,746.3 L96.9,746.2 L97.4,746.0 L97.9,745.9 L98.4,745.8 L99.0,745.6 L99.5,745.5 L100.0,745.4 L100.5,745.3 L101.1,745.2 L101.6,745.1 L102.1,745.0 L102.6,744.9 L103.2,744.8 L103.7,744.7 L104.2,744.6 L104.8,744.5 L105.3,744.4 L105.8,744.4 L106.4,744.3 L106.9,744.2 L107.4,744.2 L108.0,744.1 L108.5,744.0 L109.1,744.0 L109.6,743.9 L110.1,743.9 L110.7,743.9 L111.2,743.8 L111.8,743.8 L112.3,743.8 L112.8,743.7 L113.4,743.7 L113.9,743.7 L114.4,743.7 L115.0,743.7 L115.5,743.7 L116.0,743.7 L116.6,743.7 L117.1,743.7 L117.6,743.7 L118.2,743.7 L118.7,743.7 L119.2,743.7 L119.7,743.7 L120.2,743.8 L120.8,743.8 L121.3,743.8 L121.8,743.9 L122.3,743.9 L122.8,744.0 L123.3,744.0 L123.8,744.1 L124.3,744.1 L124.8,744.2 L125.3,744.3 L125.8,744.3 L126.3,744.4 L126.7,744.5 L127.2,744.6 L127.7,744.6 L128.2,744.7 L128.6,744.8 L129.1,744.9 L129.5,745.0 L130.0,745.1 L130.4,745.2 L130.9,745.4 L131.3,745.5 L131.8,745.6 L132.2,745.7 L132.6,745.8 L133.0,746.0 L133.4,746.1 L133.9,746.2 L134.3,746.4 L134.7,746.5 L135.0,746.7 L135.4,746.8 L135.8,747.0 L136.2,747.2 L136.6,747.3 L136.9,747.5 L137.3,747.7 L137.6,747.9 L138.0,748.1 L138.3,748.2 L138.7,748.4 L139.0,748.6 L139.3,748.8 L139.6,749.0 L139.9,749.2 L140.2,749.5 L140.5,749.7 L140.8,749.9 L141.1,750.1 L141.4,750.3 L141.6,750.6 L141.9,750.8 L142.1,751.1 L142.4,751.3 L142.6,751.6 L142.9,751.8 L143.1,752.1 L143.3,752.3 L143.5,752.6 L143.7,752.9 L143.9,753.1 L144.1,753.4 L144.3,753.7 L144.5,754.0 L144.6,754.3 L144.8,754.6 L144.9,754.9 L145.1,755.2 L145.2,755.5 L145.4,755.8 L145.5,756.1 L145.6,756.4 L145.7,756.8 L145.8,757.1 L145.9,757.4 L146.0,757.8 L146.0,758.1 L146.1,758.4 L146.2,758.8 L146.2,759.1 L146.3,759.5 L146.3,759.9 L146.3,760.2 L146.3,760.6 L146.4,761.0 L146.4,761.4 L146.4,761.7 L146.3,762.1 L146.3,762.5 L146.3,762.9 L146.3,763.3 L146.2,763.7 L146.2,764.1 L146.1,764.5 L146.0,764.9 L146.0,765.4 L145.9,765.8 L145.8,766.2 L145.7,766.6 L145.6,767.1 L145.5,767.5 L145.4,767.9 L145.2,768.4 L145.1,768.8 L145.0,769.3 L144.8,769.7 L144.6,770.2 L144.5,770.7 L144.3,771.1 L144.1,771.6 L143.9,772.1 L143.7,772.5 L143.5,773.0 L143.3,773.5 L143.1,774.0 L142.9,774.5 L142.7,775.0 L142.4,775.5 L142.2,776.0 L141.9,776.5 L141.7,777.0 L141.4,777.5 L141.1,778.0 L140.8,778.5 L140.5,779.0 L140.3,779.5 L140.0,780.0 L139.6,780.6 L139.3,781.1 L139.0,781.6 L138.7,782.1 L138.4,782.7 L138.0,783.2 L137.7,783.7 L137.3,784.3 L137.0,784.8 L136.6,785.4 L136.2,785.9 L135.8,786.4 L135.5,787.0 L135.1,787.5 L134.7,788.1 L134.3,788.6 L133.9,789.2 L133.5,789.7 L133.1,790.3 L132.6,790.8 L132.2,791.4 L131.8,792.0 L131.4,792.5 L130.9,793.1 L130.5,793.6 L130.0,794.2 L129.6,794.8 L129.1,795.3 L128.7,795.9 L128.2,796.4 L127.7,797.0 L127.3,797.6 L126.8,798.1 L126.3,798.7 L125.8,799.2 L125.3,799.8 L124.8,800.4 L124.3,800.9 L123.8,801.5 L123.3,802.1 L122.8,802.6 L122.3,803.2 L121.8,803.7 L121.3,804.3 L120.8,804.8 L120.3,805.4 L119.8,805.9 L119.2,806.5 L118.7,807.0 L118.2,807.6 L117.7,808.1 L117.1,808.7 L116.6,809.2 L116.1,809.8 L115.6,810.3 L115.0,810.8 L114.5,811.4 L114.0,811.9 L113.4,812.4 L112.9,813.0 L112.3,813.5 L111.8,814.0 L111.3,814.5 L110.7,815.1 L110.2,815.6 L109.6,816.1 L109.1,816.6 L108.6,817.1 L108.0,817.6 L107.5,818.1 L107.0,818.6 L106.4,819.1 L105.9,819.6 L105.3,820.1 L104.8,820.5 L104.3,821.0 L103.7,821.5 L103.2,822.0 L102.7,822.4 L102.1,822.9 L101.6,823.4 L101.1,823.8 L100.6,824.3 L100.0,824.7 L99.5,825.2 L99.0,825.6 L98.5,826.0 L98.0,826.5 L97.5,826.9 L97.0,827.3 L96.4,827.7 L95.9,828.2 L95.4,828.6 L94.9,829.0 L94.4,829.4 L93.9,829.8 L93.5,830.2 L93.0,830.5 L92.5,830.9 L92.0,831.3 L91.5,831.7 L91.0,832.0 L90.6,832.4 L90.1,832.7 L89.6,833.1 L89.2,833.4 L88.7,833.8 L88.2,834.1 L87.8,834.4 L87.3,834.8 L86.9,835.1 L86.4,835.4 L86.0,835.7 L85.6,836.0 L85.1,836.3 L84.7,836.6 L84.3,836.9 L83.9,837.1 L83.4,837.4 L83.0,837.7 L82.6,837.9 L82.2,838.2 L81.8,838.5 L81.4,838.7 L81.0,838.9 L80.6,839.2 L80.2,839.4 L79.9,839.6 L79.5,839.8 L79.1,840.0 L78.7,840.2 L78.4,840.4 L78.0,840.6 L77.6,840.8 L77.3,841.0 L76.9,841.2 L76.6,841.3 L76.2,841.5 L75.9,841.7 L75.6,841.8 L75.2,841.9 L74.9,842.1 L74.6,842.2 L74.3,842.3 L74.0,842.5 L73.6,842.6 L73.3,842.7 L73.0,842.8 L72.7,842.9 L72.4,843.0 L72.1,843.0 L71.9,843.1 L71.6,843.2 L71.3,843.3 L71.0,843.3 L70.7,843.4 L70.5,843.4 L70.2,843.4 L69.9,843.5 L69.7,843.5 L69.4,843.5 L69.2,843.5 L68.9,843.5 L68.7,843.5 L68.4,843.5 L68.2,843.5 L68.0,843.5 L67.7,843.5 L67.5,843.5 L67.3,843.4 L67.1,843.4 L66.9,843.3 L66.6,843.3 L66.4,843.2 L66.2,843.2 L66.0,843.1 L65.8,843.0 L65.6,842.9 L65.4,842.8 L65.2,842.7 L65.1,842.6 L64.9,842.5 L64.7,842.4 L64.5,842.3 L64.3,842.2 L64.2,842.0 L64.0,841.9 L63.8,841.7 L63.7,841.6 L63.5,841.4 L63.4,841.3 L63.2,841.1 L63.1,840.9 L62.9,840.7 L62.8,840.5 L62.6,840.3 L62.5,840.1 L62.3,839.9 L62.2,839.7 L62.1,839.5 L62.0,839.3 L61.8,839.1 L61.7,838.8 L61.6,838.6 L61.5,838.3 L61.3,838.1 L61.2,837.8 L61.1,837.5 L61.0,837.3 L60.9,837.0 L60.8,836.7 L60.7,836.4 L60.6,836.1 L60.5,835.8 L60.4,835.5 L60.3,835.2 L60.2,834.9 L60.2,834.6 L60.1,834.3 L60.0,833.9 L59.9,833.6 L59.8,833.3 L59.8,832.9 L59.7,832.6 L59.6,832.2 L59.5,831.8 L59.5,831.5 L59.4,831.1 L59.4,830.7Z" fill="none" stroke="#555" stroke-width="1" stroke-dasharray="5.5 3" />
<circle cx="106.9" cy="755.1" r="3.3" fill="#fff" fill-opacity="0" stroke="#1a1a1a" stroke-width="1.1"/>
<text x="106.9" y="756.6" font-size="4.2" fill="#888" text-anchor="middle">1</text>
<circle cx="54.7" cy="775.5" r="3.3" fill="#fff" fill-opacity="0" stroke="#1a1a1a" stroke-width="1.1"/>
<text x="54.7" y="777.0" font-size="4.2" fill="#888" text-anchor="middle">2</text>
<circle cx="69.7" cy="776.5" r="3.3" fill="#fff" fill-opacity="0" stroke="#1a1a1a" stroke-width="1.1"/>
<text x="69.7" y="778.0" font-size="4.2" fill="#888" text-anchor="middle">3</text>
<circle cx="80.4" cy="795.2" r="3.3" fill="#fff" fill-opacity="0" stroke="#1a1a1a" stroke-width="1.1"/>
<text x="80.4" y="796.7" font-size="4.2" fill="#888" text-anchor="middle">4</text>
<circle cx="83.9" cy="799.1" r="3.3" fill="#fff" fill-opacity="0" stroke="#1a1a1a" stroke-width="1.1"/>
<text x="83.9" y="800.6" font-size="4.2" fill="#888" text-anchor="middle">5</text>
<circle cx="113.7" cy="796.9" r="3.3" fill="#fff" fill-opacity="0" stroke="#1a1a1a" stroke-width="1.1"/>
<text x="113.7" y="798.4" font-size="4.2" fill="#888" text-anchor="middle">6</text>
<circle cx="216.7" cy="729.3" r="3.3" fill="#fff" fill-opacity="0" stroke="#1a1a1a" stroke-width="1.1"/>
<text x="216.7" y="730.8" font-size="4.2" fill="#888" text-anchor="middle">7</text>
<circle cx="67.4" cy="879.6" r="3.3" fill="#fff" fill-opacity="0" stroke="#1a1a1a" stroke-width="1.1"/>
<text x="67.4" y="881.1" font-size="4.2" fill="#888" text-anchor="middle">8</text>
<path d="M87.5,782.9 L91.7,787.1 L87.5,791.3000000000001 L83.3,787.1Z" fill="#9a3843"/>
<path d="M41.4,958.7 L41.4,958.7 L41.4,958.7 L41.4,958.7 L41.4,958.7 L41.4,958.7 L41.4,958.7 L41.4,958.7 L41.4,958.7 L41.4,958.7 L41.4,958.7 L41.4,958.7 L41.4,958.7 L41.4,958.7 L41.4,958.7 L41.4,958.7 L41.4,958.7 L41.4,958.7 L41.4,958.7 L41.4,958.7 L41.4,958.7 L41.4,958.7 L41.4,958.7 L41.4,958.7 L41.4,958.7 L41.4,958.7 L41.4,958.7 L41.4,958.7 L41.4,958.7 L41.4,958.7 L41.4,958.7 L41.4,958.7 L41.4,958.7 L41.4,958.7 L41.4,958.7 L41.4,958.7 L41.4,958.7 L41.4,958.7 L41.4,958.7 L41.4,958.7 L41.4,958.7 L41.4,958.7 L41.4,958.7 L41.4,958.7 L41.4,958.7 L41.4,958.7 L41.4,958.7 L41.4,958.7 L41.4,958.7 L41.4,958.7 L41.4,958.7 L41.4,958.7 L41.4,958.7 L41.4,958.7 L41.4,958.7 L41.4,958.7 L41.4,958.7 L41.4,958.7 L41.4,958.7 L41.4,958.7 L41.4,958.7 L41.4,958.7 L41.4,958.7 L41.4,958.7 L41.4,958.7 L41.4,958.7 L41.4,958.7 L41.4,958.7 L41.4,958.7 L41.4,958.7 L41.4,958.7 L41.4,958.7 L41.4,958.7 L41.4,958.7 L41.4,958.7 L41.4,958.7 L41.4,958.7 L41.4,958.7 L41.4,958.7 L41.4,958.7 L41.4,958.7 L41.4,958.7 L41.4,958.6 L41.4,958.6 L41.4,958.6 L41.4,958.6 L41.4,958.6 L41.4,958.6 L41.4,958.5 L41.4,958.5 L41.4,958.5 L41.4,958.4 L41.4,958.4 L41.4,958.3 L41.4,958.2 L41.4,958.1 L41.4,958.0 L41.4,957.9 L41.4,957.7 L41.4,957.5 L41.4,957.3 L41.4,957.0 L41.5,956.6 L41.5,956.2 L41.5,955.7 L41.5,955.2 L41.5,954.5 L41.6,953.6 L41.6,952.7 L41.7,951.5 L41.7,950.1 L41.8,948.4 L41.9,946.5 L42.1,944.2 L42.2,941.5 L42.4,938.3 L42.7,934.6 L43.1,930.4 L43.5,925.4 L44.0,919.7 L44.0,919.7 L45.3,908.0 L46.6,898.1 L47.9,889.4 L49.2,881.7 L50.5,874.8 L51.8,868.5 L53.1,862.8 L54.4,857.5 L55.7,852.6 L57.0,848.0 L58.3,843.7 L59.6,839.7 L60.9,835.9 L62.2,832.3 L63.5,828.9 L64.8,825.7 L66.1,822.6 L67.4,819.7 L68.7,816.9 L70.0,814.3 L71.3,811.7 L72.6,809.3 L73.9,807.0 L75.2,804.7 L76.5,802.6 L77.8,800.5 L79.1,798.5 L80.4,796.5 L81.7,794.6 L82.9,792.8 L84.2,791.1 L85.5,789.4 L86.8,787.7 L88.1,786.1 L89.4,784.6 L90.7,783.1 L92.0,781.6 L93.3,780.2 L94.6,778.8 L95.9,777.5 L97.2,776.2 L98.5,774.9 L99.8,773.6 L101.1,772.4 L102.4,771.2 L103.7,770.1 L105.0,768.9 L106.3,767.8 L107.6,766.8 L108.9,765.7 L110.2,764.7 L111.5,763.7 L112.8,762.7 L114.1,761.7 L115.4,760.7 L116.7,759.8 L118.0,758.9 L119.3,758.0 L120.6,757.1 L121.9,756.3 L123.2,755.4 L124.5,754.6 L125.8,753.8 L127.1,753.0 L128.3,752.2 L129.6,751.4 L130.9,750.6 L132.2,749.9 L133.5,749.2 L134.8,748.4 L136.1,747.7 L137.4,747.0 L138.7,746.3 L140.0,745.7 L141.3,745.0 L142.6,744.3 L143.9,743.7 L145.2,743.0 L146.5,742.4 L147.8,741.8 L149.1,741.2 L150.4,740.6 L151.7,740.0 L153.0,739.4 L154.3,738.8 L155.6,738.2 L156.9,737.7 L158.2,737.1 L159.5,736.6 L160.8,736.0 L162.1,735.5 L163.4,735.0 L164.7,734.4 L166.0,733.9 L167.3,733.4 L168.6,732.9 L169.9,732.4 L171.2,731.9 L172.5,731.4 L173.7,730.9 L175.0,730.5 L176.3,730.0 L177.6,729.5 L178.9,729.1 L180.2,728.6 L181.5,728.2 L182.8,727.7 L184.1,727.3 L185.4,726.8 L186.7,726.4 L188.0,726.0 L189.3,725.5 L190.6,725.1 L191.9,724.7 L193.2,724.3 L194.5,723.9 L195.8,723.5 L197.1,723.1 L198.4,722.7 L199.7,722.3 L201.0,721.9 L202.3,721.5 L203.6,721.1 L204.9,720.7 L206.2,720.3 L207.5,720.0 L208.8,719.6 L210.1,719.2 L211.4,718.9 L212.7,718.5 L214.0,718.1 L215.3,717.8 L216.6,717.4 L217.9,717.1 L219.1,716.7 L220.4,716.3 L221.7,716.0 L223.0,715.7 L224.3,715.3 L225.6,715.0 L226.9,714.6 L228.2,714.3 L229.5,714.0 L230.8,713.6 L232.1,713.3 L233.4,713.0 L234.7,712.6 L236.0,712.3 L237.3,712.0 L238.6,711.7 L239.9,711.3 L241.2,711.0 L242.5,710.7 L243.8,710.4 L245.1,710.1 L246.4,709.8 L247.7,709.4 L249.0,709.1 L250.3,708.8 L251.6,708.5 L252.9,708.2 L254.2,707.9 L255.5,707.6 L256.8,707.3 L258.1,707.0 L259.4,706.7 L260.7,706.4 L262.0,706.1 L263.3,705.7 L264.5,705.4 L265.8,705.1 L267.1,704.8 L268.4,704.5 L269.7,704.2 L271.0,703.9 L272.3,703.6 L273.6,703.3 L274.9,703.0 L276.2,702.7 L277.5,702.4 L278.8,702.1 L280.1,701.8 L281.4,701.5 L282.7,701.2 L284.0,700.9 L285.3,700.6 L286.6,700.2 L287.9,699.9 L289.2,699.6 L290.5,699.3 L291.8,698.9 L293.1,698.6 L294.4,698.3 L295.7,697.9 L297.0,697.6 L298.3,697.2 L299.6,696.8 L300.9,696.4 L302.2,696.0 L302.2,695.9 L302.8,695.8 L303.2,695.6 L303.5,695.5 L303.8,695.4 L304.0,695.3 L304.2,695.2 L304.3,695.1 L304.4,695.1 L304.5,695.0 L304.5,695.0 L304.6,695.0 L304.6,694.9 L304.7,694.9 L304.7,694.9 L304.7,694.9 L304.7,694.9 L304.8,694.9 L304.8,694.8 L304.8,694.8 L304.8,694.8 L304.8,694.8 L304.8,694.8 L304.8,694.8 L304.8,694.8 L304.8,694.8 L304.8,694.8 L304.8,694.8 L304.8,694.8 L304.8,694.8 L304.8,694.8 L304.8,694.8 L304.8,694.8 L304.8,694.8 L304.8,694.8 L304.8,694.8 L304.8,694.8 L304.8,694.8 L304.8,694.8 L304.8,694.8 L304.8,694.8 L304.8,694.8 L304.8,694.8 L304.8,694.8 L304.8,694.8 L304.8,694.8 L304.8,694.8 L304.8,694.8 L304.8,694.8 L304.8,694.8 L304.8,694.8 L304.8,694.8 L304.8,694.8 L304.8,694.8 L304.8,694.8 L304.8,694.8 L304.8,694.8 L304.8,694.8 L304.8,694.8 L304.8,694.8 L304.8,694.8 L304.8,694.8 L304.8,694.8 L304.8,694.8 L304.8,694.8 L304.8,694.8 L304.8,694.8 L304.8,694.8 L304.8,694.8 L304.8,694.8 L304.8,694.8 L304.8,694.8 L304.8,694.8 L304.8,694.8 L304.8,694.8 L304.8,694.8 L304.8,694.8 L304.8,694.8 L304.8,694.8 L304.8,694.8 L304.8,694.8 L304.8,694.8 L304.8,694.8 L304.8,694.8 L304.8,694.8 L304.8,694.8 L304.8,694.8 L304.8,694.8 L304.8,694.8 L304.8,694.8 L304.8,694.8 L304.8,694.8 L304.8,694.8 L304.8,694.8 L304.8,694.8 L304.8,694.8 L304.8,694.8 L304.8,694.8 L304.8,694.8 L304.8,694.8 L304.8,694.8 L304.8,694.8 L304.8,694.8 L304.8,694.8 L304.8,694.8 L304.8,694.8 L304.8,694.8 L304.8,694.8 L304.8,694.8 L304.8,694.8 L304.8,694.8 L304.8,694.8 L304.8,694.8 L304.8,694.8 L304.8,694.8 L304.8,694.8 L304.8,694.8 L304.8,694.8 L304.8,694.8 L304.8,694.8" fill="none" stroke="#1a1a1a" stroke-width="1.25"/>
<rect x="192.5" y="860.8" width="108.0" height="93.40000000000009" fill="#fff" stroke="#555" stroke-width="1"/>
<g font-size="8.2" fill="#2a2a2a">
<text x="211.7" y="874.0999999999999" textLength="47.08" lengthAdjust="spacingAndGlyphs">Observed Data</text>
<text x="211.7" y="887.5" textLength="80.53" lengthAdjust="spacingAndGlyphs">Summary Operating Point</text>
<text x="211.7" y="894.0" textLength="79.96" lengthAdjust="spacingAndGlyphs">SENS = 0.65 [0.52 - 0.76]</text>
<text x="211.7" y="901.0999999999999" textLength="79.96" lengthAdjust="spacingAndGlyphs">SPEC = 0.82 [0.70 - 0.90]</text>
<text x="211.7" y="911.3" textLength="40.84" lengthAdjust="spacingAndGlyphs">SROC Curve</text>
<text x="211.7" y="917.9" textLength="75.68" lengthAdjust="spacingAndGlyphs">AUC = 0.80 [0.76 - 0.83]</text>
<text x="211.7" y="931.4" textLength="78.21" lengthAdjust="spacingAndGlyphs">95% Confidence Contour</text>
<text x="211.7" y="945.9" textLength="73.93" lengthAdjust="spacingAndGlyphs">95% Prediction Contour</text>
</g>
<circle cx="201.2" cy="871.9" r="3.4" fill="none" stroke="#111" stroke-width="1.2"/>
<path d="M201.2,887.3 L205.6,891.6999999999999 L201.2,896.0999999999999 L196.79999999999998,891.6999999999999Z" fill="#9a3843"/>
<path d="M198.5,911.8 L203.89999999999998,911.8" stroke="#111" stroke-width="1.2"/>
<path d="M198.5,928.9 L203.89999999999998,928.9" stroke="#666" stroke-width="0.9"/>
<g stroke="#505050" stroke-width="1" fill="none">
<path d="M378.3,695.5 L378.3,963.3 M373.3,959.3 L641.6,959.3 L641.6,963.3 M509.95000000000005,959.3 L509.95000000000005,963.3 M373.3,695.5 L378.3,695.5 M373.3,827.4 L378.3,827.4"/>
</g>
<g font-size="11.8" fill="#222">
<text x="371.40000000000003" y="699.8" text-anchor="end">1.0</text>
<text x="371.40000000000003" y="831.6999999999999" text-anchor="end">0.5</text>
<text x="371.40000000000003" y="963.5999999999999" text-anchor="end">0.0</text>
<text x="378.3" y="976.6999999999999" text-anchor="middle">1.0</text>
<text x="509.95000000000005" y="976.6999999999999" text-anchor="middle">0.5</text>
<text x="641.6" y="976.6999999999999" text-anchor="middle">0.0</text>
</g>
<text font-size="12" fill="#222" x="509.95000000000005" y="987.5999999999999" text-anchor="middle">Specificity</text>
<text font-size="12" fill="#222" transform="translate(346.90000000000003,827.4) rotate(-90)" text-anchor="middle">Sensitivity</text>
<text font-size="12.2" fill="#363e62" x="385.40000000000003" y="690.5">SROC with Prediction &amp; Confidence Contours</text>
<text font-size="15.6" font-weight="bold" fill="#000" x="338.6" y="685.5">f</text>
<path d="M384.6,740.4 L384.6,740.3 L384.6,740.1 L384.6,739.9 L384.7,739.8 L384.7,739.6 L384.7,739.5 L384.7,739.3 L384.7,739.1 L384.7,739.0 L384.7,738.8 L384.8,738.7 L384.8,738.5 L384.8,738.4 L384.8,738.3 L384.8,738.1 L384.8,738.0 L384.9,737.8 L384.9,737.7 L384.9,737.6 L384.9,737.4 L385.0,737.3 L385.0,737.2 L385.0,737.0 L385.1,736.9 L385.1,736.8 L385.1,736.7 L385.1,736.6 L385.2,736.4 L385.2,736.3 L385.3,736.2 L385.3,736.1 L385.3,736.0 L385.4,735.9 L385.4,735.8 L385.5,735.7 L385.5,735.6 L385.5,735.5 L385.6,735.4 L385.6,735.3 L385.7,735.2 L385.7,735.1 L385.8,735.0 L385.8,734.9 L385.9,734.8 L385.9,734.7 L386.0,734.6 L386.1,734.5 L386.1,734.5 L386.2,734.4 L386.2,734.3 L386.3,734.2 L386.4,734.2 L386.4,734.1 L386.5,734.0 L386.6,734.0 L386.6,733.9 L386.7,733.8 L386.8,733.8 L386.9,733.7 L386.9,733.6 L387.0,733.6 L387.1,733.5 L387.2,733.5 L387.3,733.4 L387.3,733.4 L387.4,733.3 L387.5,733.3 L387.6,733.2 L387.7,733.2 L387.8,733.2 L387.9,733.1 L388.0,733.1 L388.1,733.1 L388.2,733.0 L388.3,733.0 L388.4,733.0 L388.5,732.9 L388.6,732.9 L388.7,732.9 L388.9,732.9 L389.0,732.8 L389.1,732.8 L389.2,732.8 L389.3,732.8 L389.5,732.8 L389.6,732.8 L389.7,732.8 L389.9,732.8 L390.0,732.8 L390.1,732.8 L390.3,732.8 L390.4,732.8 L390.6,732.8 L390.7,732.8 L390.9,732.8 L391.0,732.8 L391.2,732.8 L391.3,732.8 L391.5,732.8 L391.7,732.8 L391.8,732.9 L392.0,732.9 L392.2,732.9 L392.3,732.9 L392.5,732.9 L392.7,733.0 L392.9,733.0 L393.1,733.0 L393.3,733.1 L393.5,733.1 L393.7,733.1 L393.9,733.2 L394.1,733.2 L394.3,733.3 L394.5,733.3 L394.7,733.3 L394.9,733.4 L395.1,733.4 L395.3,733.5 L395.6,733.5 L395.8,733.6 L396.0,733.7 L396.3,733.7 L396.5,733.8 L396.8,733.8 L397.0,733.9 L397.3,734.0 L397.5,734.0 L397.8,734.1 L398.0,734.2 L398.3,734.2 L398.6,734.3 L398.8,734.4 L399.1,734.5 L399.4,734.6 L399.7,734.6 L400.0,734.7 L400.2,734.8 L400.5,734.9 L400.8,735.0 L401.1,735.1 L401.4,735.2 L401.7,735.3 L402.1,735.4 L402.4,735.5 L402.7,735.6 L403.0,735.7 L403.3,735.8 L403.7,735.9 L404.0,736.0 L404.3,736.1 L404.7,736.2 L405.0,736.3 L405.4,736.5 L405.7,736.6 L406.1,736.7 L406.5,736.8 L406.8,736.9 L407.2,737.1 L407.6,737.2 L407.9,737.3 L408.3,737.5 L408.7,737.6 L409.1,737.7 L409.5,737.9 L409.8,738.0 L410.2,738.1 L410.6,738.3 L411.0,738.4 L411.4,738.6 L411.8,738.7 L412.3,738.9 L412.7,739.0 L413.1,739.2 L413.5,739.3 L413.9,739.5 L414.3,739.6 L414.8,739.8 L415.2,740.0 L415.6,740.1 L416.1,740.3 L416.5,740.5 L416.9,740.6 L417.4,740.8 L417.8,741.0 L418.3,741.2 L418.7,741.3 L419.1,741.5 L419.6,741.7 L420.0,741.9 L420.5,742.1 L420.9,742.2 L421.4,742.4 L421.9,742.6 L422.3,742.8 L422.8,743.0 L423.2,743.2 L423.7,743.4 L424.1,743.6 L424.6,743.8 L425.1,744.0 L425.5,744.2 L426.0,744.4 L426.4,744.6 L426.9,744.8 L427.4,745.0 L427.8,745.2 L428.3,745.4 L428.7,745.6 L429.2,745.8 L429.6,746.0 L430.1,746.3 L430.6,746.5 L431.0,746.7 L431.5,746.9 L431.9,747.1 L432.4,747.4 L432.8,747.6 L433.2,747.8 L433.7,748.0 L434.1,748.3 L434.6,748.5 L435.0,748.7 L435.4,749.0 L435.9,749.2 L436.3,749.4 L436.7,749.7 L437.1,749.9 L437.5,750.1 L438.0,750.4 L438.4,750.6 L438.8,750.9 L439.2,751.1 L439.6,751.3 L440.0,751.6 L440.4,751.8 L440.7,752.1 L441.1,752.3 L441.5,752.6 L441.9,752.8 L442.2,753.1 L442.6,753.3 L443.0,753.6 L443.3,753.8 L443.7,754.1 L444.0,754.3 L444.3,754.6 L444.7,754.8 L445.0,755.1 L445.3,755.3 L445.6,755.6 L445.9,755.8 L446.2,756.1 L446.5,756.3 L446.8,756.6 L447.1,756.9 L447.4,757.1 L447.6,757.4 L447.9,757.6 L448.2,757.9 L448.4,758.1 L448.7,758.4 L448.9,758.7 L449.1,758.9 L449.3,759.2 L449.6,759.4 L449.8,759.7 L450.0,759.9 L450.2,760.2 L450.3,760.5 L450.5,760.7 L450.7,761.0 L450.8,761.2 L451.0,761.5 L451.2,761.8 L451.3,762.0 L451.4,762.3 L451.5,762.5 L451.7,762.8 L451.8,763.0 L451.9,763.3 L452.0,763.5 L452.0,763.8 L452.1,764.0 L452.2,764.3 L452.3,764.5 L452.3,764.8 L452.4,765.0 L452.4,765.3 L452.4,765.5 L452.4,765.8 L452.4,766.0 L452.5,766.3 L452.4,766.5 L452.4,766.8 L452.4,767.0 L452.4,767.2 L452.3,767.5 L452.3,767.7 L452.3,768.0 L452.2,768.2 L452.1,768.4 L452.0,768.7 L452.0,768.9 L451.9,769.1 L451.8,769.3 L451.7,769.6 L451.5,769.8 L451.4,770.0 L451.3,770.2 L451.1,770.5 L451.0,770.7 L450.8,770.9 L450.7,771.1 L450.5,771.3 L450.3,771.5 L450.1,771.8 L449.9,772.0 L449.7,772.2 L449.5,772.4 L449.3,772.6 L449.1,772.8 L448.9,773.0 L448.6,773.2 L448.4,773.4 L448.1,773.5 L447.9,773.7 L447.6,773.9 L447.4,774.1 L447.1,774.3 L446.8,774.5 L446.5,774.6 L446.2,774.8 L445.9,775.0 L445.6,775.2 L445.3,775.3 L445.0,775.5 L444.6,775.7 L444.3,775.8 L444.0,776.0 L443.6,776.1 L443.3,776.3 L442.9,776.4 L442.6,776.6 L442.2,776.7 L441.8,776.9 L441.5,777.0 L441.1,777.1 L440.7,777.3 L440.3,777.4 L439.9,777.5 L439.5,777.6 L439.1,777.8 L438.7,777.9 L438.3,778.0 L437.9,778.1 L437.5,778.2 L437.1,778.3 L436.7,778.4 L436.3,778.5 L435.8,778.6 L435.4,778.7 L435.0,778.8 L434.5,778.9 L434.1,779.0 L433.7,779.1 L433.2,779.1 L432.8,779.2 L432.3,779.3 L431.9,779.4 L431.4,779.4 L431.0,779.5 L430.5,779.6 L430.1,779.6 L429.6,779.7 L429.2,779.7 L428.7,779.8 L428.2,779.8 L427.8,779.8 L427.3,779.9 L426.9,779.9 L426.4,779.9 L426.0,780.0 L425.5,780.0 L425.0,780.0 L424.6,780.0 L424.1,780.0 L423.7,780.0 L423.2,780.0 L422.7,780.1 L422.3,780.1 L421.8,780.0 L421.4,780.0 L420.9,780.0 L420.5,780.0 L420.0,780.0 L419.6,780.0 L419.1,780.0 L418.7,779.9 L418.2,779.9 L417.8,779.9 L417.3,779.8 L416.9,779.8 L416.5,779.7 L416.0,779.7 L415.6,779.6 L415.2,779.6 L414.7,779.5 L414.3,779.5 L413.9,779.4 L413.5,779.4 L413.1,779.3 L412.6,779.2 L412.2,779.1 L411.8,779.1 L411.4,779.0 L411.0,778.9 L410.6,778.8 L410.2,778.7 L409.8,778.6 L409.4,778.5 L409.1,778.4 L408.7,778.3 L408.3,778.2 L407.9,778.1 L407.5,778.0 L407.2,777.9 L406.8,777.7 L406.4,777.6 L406.1,777.5 L405.7,777.4 L405.4,777.2 L405.0,777.1 L404.7,777.0 L404.3,776.8 L404.0,776.7 L403.7,776.5 L403.3,776.4 L403.0,776.3 L402.7,776.1 L402.4,775.9 L402.0,775.8 L401.7,775.6 L401.4,775.5 L401.1,775.3 L400.8,775.1 L400.5,775.0 L400.2,774.8 L399.9,774.6 L399.7,774.4 L399.4,774.3 L399.1,774.1 L398.8,773.9 L398.5,773.7 L398.3,773.5 L398.0,773.3 L397.7,773.1 L397.5,772.9 L397.2,772.7 L397.0,772.5 L396.7,772.3 L396.5,772.1 L396.3,771.9 L396.0,771.7 L395.8,771.5 L395.6,771.3 L395.3,771.1 L395.1,770.9 L394.9,770.6 L394.7,770.4 L394.5,770.2 L394.3,770.0 L394.1,769.8 L393.8,769.5 L393.6,769.3 L393.5,769.1 L393.3,768.8 L393.1,768.6 L392.9,768.4 L392.7,768.1 L392.5,767.9 L392.3,767.7 L392.2,767.4 L392.0,767.2 L391.8,767.0 L391.7,766.7 L391.5,766.5 L391.3,766.2 L391.2,766.0 L391.0,765.7 L390.9,765.5 L390.7,765.2 L390.6,765.0 L390.4,764.7 L390.3,764.5 L390.1,764.2 L390.0,764.0 L389.9,763.7 L389.7,763.5 L389.6,763.2 L389.5,763.0 L389.3,762.7 L389.2,762.5 L389.1,762.2 L389.0,762.0 L388.9,761.7 L388.7,761.4 L388.6,761.2 L388.5,760.9 L388.4,760.7 L388.3,760.4 L388.2,760.2 L388.1,759.9 L388.0,759.6 L387.9,759.4 L387.8,759.1 L387.7,758.9 L387.6,758.6 L387.5,758.4 L387.4,758.1 L387.3,757.8 L387.3,757.6 L387.2,757.3 L387.1,757.1 L387.0,756.8 L386.9,756.5 L386.9,756.3 L386.8,756.0 L386.7,755.8 L386.6,755.5 L386.6,755.3 L386.5,755.0 L386.4,754.8 L386.4,754.5 L386.3,754.3 L386.2,754.0 L386.2,753.8 L386.1,753.5 L386.1,753.3 L386.0,753.0 L385.9,752.8 L385.9,752.5 L385.8,752.3 L385.8,752.0 L385.7,751.8 L385.7,751.5 L385.6,751.3 L385.6,751.0 L385.5,750.8 L385.5,750.6 L385.5,750.3 L385.4,750.1 L385.4,749.9 L385.3,749.6 L385.3,749.4 L385.3,749.1 L385.2,748.9 L385.2,748.7 L385.1,748.5 L385.1,748.2 L385.1,748.0 L385.1,747.8 L385.0,747.5 L385.0,747.3 L385.0,747.1 L384.9,746.9 L384.9,746.7 L384.9,746.4 L384.9,746.2 L384.8,746.0 L384.8,745.8 L384.8,745.6 L384.8,745.4 L384.8,745.2 L384.7,745.0 L384.7,744.7 L384.7,744.5 L384.7,744.3 L384.7,744.1 L384.7,743.9 L384.7,743.7 L384.7,743.5 L384.6,743.3 L384.6,743.1 L384.6,743.0 L384.6,742.8 L384.6,742.6 L384.6,742.4 L384.6,742.2 L384.6,742.0 L384.6,741.8 L384.6,741.7 L384.6,741.5 L384.6,741.3 L384.6,741.1 L384.6,740.9 L384.6,740.8 L384.6,740.6 L384.6,740.4Z" fill="none" stroke="#555" stroke-width="1" stroke-dasharray="5.5 3" />
<circle cx="380.7" cy="735.1" r="3.3" fill="#fff" fill-opacity="0" stroke="#1a1a1a" stroke-width="1.1"/>
<text x="380.7" y="736.6" font-size="4.2" fill="#888" text-anchor="middle">1</text>
<circle cx="396.1" cy="739.7" r="3.3" fill="#fff" fill-opacity="0" stroke="#1a1a1a" stroke-width="1.1"/>
<text x="396.1" y="741.2" font-size="4.2" fill="#888" text-anchor="middle">2</text>
<circle cx="418.2" cy="740.6" r="3.3" fill="#fff" fill-opacity="0" stroke="#1a1a1a" stroke-width="1.1"/>
<text x="418.2" y="742.1" font-size="4.2" fill="#888" text-anchor="middle">3</text>
<circle cx="393.9" cy="766.5" r="3.3" fill="#fff" fill-opacity="0" stroke="#1a1a1a" stroke-width="1.1"/>
<text x="393.9" y="768.0" font-size="4.2" fill="#888" text-anchor="middle">4</text>
<circle cx="416.9" cy="763.8" r="3.3" fill="#fff" fill-opacity="0" stroke="#1a1a1a" stroke-width="1.1"/>
<text x="416.9" y="765.3" font-size="4.2" fill="#888" text-anchor="middle">5</text>
<circle cx="443.6" cy="769.3" r="3.3" fill="#fff" fill-opacity="0" stroke="#1a1a1a" stroke-width="1.1"/>
<text x="443.6" y="770.8" font-size="4.2" fill="#888" text-anchor="middle">6</text>
<path d="M402.8,748.9 L407.0,753.1 L402.8,757.3000000000001 L398.6,753.1Z" fill="#9a3843"/>
<path d="M378.3,959.1 L378.3,959.1 L378.3,959.0 L378.3,959.0 L378.3,959.0 L378.3,959.0 L378.3,959.0 L378.3,958.9 L378.3,958.9 L378.3,958.9 L378.3,958.9 L378.3,958.8 L378.3,958.8 L378.3,958.8 L378.3,958.7 L378.3,958.7 L378.3,958.6 L378.3,958.6 L378.3,958.6 L378.3,958.5 L378.3,958.5 L378.3,958.4 L378.3,958.3 L378.3,958.3 L378.3,958.2 L378.3,958.1 L378.3,958.1 L378.3,958.0 L378.3,957.9 L378.3,957.8 L378.3,957.7 L378.3,957.6 L378.3,957.5 L378.3,957.4 L378.3,957.2 L378.3,957.1 L378.3,957.0 L378.3,956.8 L378.3,956.6 L378.3,956.5 L378.3,956.3 L378.3,956.1 L378.3,955.9 L378.3,955.6 L378.3,955.4 L378.3,955.1 L378.3,954.9 L378.3,954.6 L378.3,954.3 L378.3,953.9 L378.3,953.6 L378.3,953.2 L378.3,952.8 L378.3,952.4 L378.3,952.0 L378.3,951.5 L378.3,951.0 L378.3,950.4 L378.3,949.9 L378.3,949.3 L378.3,948.6 L378.3,947.9 L378.3,947.2 L378.3,946.5 L378.3,945.6 L378.3,944.8 L378.3,943.9 L378.3,942.9 L378.3,941.9 L378.3,940.8 L378.3,939.7 L378.3,938.5 L378.3,937.2 L378.3,935.9 L378.3,934.4 L378.3,933.0 L378.3,931.4 L378.3,929.7 L378.3,928.0 L378.3,926.2 L378.3,924.3 L378.3,922.3 L378.3,920.2 L378.3,918.0 L378.3,915.7 L378.3,913.3 L378.3,910.8 L378.3,908.2 L378.3,905.5 L378.3,902.6 L378.3,899.7 L378.3,896.7 L378.3,893.6 L378.3,890.3 L378.3,887.0 L378.3,883.6 L378.3,880.0 L378.3,876.4 L378.3,872.7 L378.3,868.9 L378.3,865.0 L378.3,861.1 L378.4,857.1 L378.4,853.0 L378.4,848.9 L378.4,844.7 L378.4,840.5 L378.5,836.3 L378.5,832.1 L378.6,827.8 L378.6,823.6 L378.7,819.3 L378.8,815.1 L379.0,810.9 L379.1,806.7 L379.3,802.6 L379.6,798.5 L380.0,794.4 L380.4,790.4 L380.9,786.5 L380.9,786.5 L382.2,779.9 L383.5,775.4 L384.8,771.9 L386.1,769.1 L387.4,766.8 L388.7,764.8 L390.0,763.1 L391.3,761.6 L392.6,760.2 L393.9,759.0 L395.2,757.9 L396.5,756.8 L397.8,755.8 L399.1,754.9 L400.4,754.1 L401.7,753.3 L403.0,752.6 L404.3,751.9 L405.6,751.2 L406.9,750.6 L408.2,750.0 L409.5,749.4 L410.8,748.9 L412.1,748.3 L413.3,747.8 L414.6,747.3 L415.9,746.9 L417.2,746.4 L418.5,746.0 L419.8,745.6 L421.1,745.1 L422.4,744.7 L423.7,744.4 L425.0,744.0 L426.3,743.6 L427.6,743.3 L428.9,742.9 L430.2,742.6 L431.5,742.2 L432.8,741.9 L434.1,741.6 L435.4,741.3 L436.7,741.0 L438.0,740.7 L439.3,740.4 L440.6,740.1 L441.9,739.8 L443.2,739.6 L444.5,739.3 L445.8,739.0 L447.1,738.8 L448.4,738.5 L449.7,738.3 L451.0,738.0 L452.2,737.8 L453.5,737.6 L454.8,737.3 L456.1,737.1 L457.4,736.9 L458.7,736.6 L460.0,736.4 L461.3,736.2 L462.6,736.0 L463.9,735.8 L465.2,735.5 L466.5,735.3 L467.8,735.1 L469.1,734.9 L470.4,734.7 L471.7,734.5 L473.0,734.3 L474.3,734.1 L475.6,733.9 L476.9,733.8 L478.2,733.6 L479.5,733.4 L480.8,733.2 L482.1,733.0 L483.4,732.8 L484.7,732.6 L486.0,732.5 L487.3,732.3 L488.6,732.1 L489.9,731.9 L491.1,731.7 L492.4,731.6 L493.7,731.4 L495.0,731.2 L496.3,731.1 L497.6,730.9 L498.9,730.7 L500.2,730.6 L501.5,730.4 L502.8,730.2 L504.1,730.1 L505.4,729.9 L506.7,729.7 L508.0,729.6 L509.3,729.4 L510.6,729.2 L511.9,729.1 L513.2,728.9 L514.5,728.8 L515.8,728.6 L517.1,728.4 L518.4,728.3 L519.7,728.1 L521.0,728.0 L522.3,727.8 L523.6,727.7 L524.9,727.5 L526.2,727.3 L527.5,727.2 L528.8,727.0 L530.0,726.9 L531.3,726.7 L532.6,726.6 L533.9,726.4 L535.2,726.3 L536.5,726.1 L537.8,726.0 L539.1,725.8 L540.4,725.6 L541.7,725.5 L543.0,725.3 L544.3,725.2 L545.6,725.0 L546.9,724.9 L548.2,724.7 L549.5,724.6 L550.8,724.4 L552.1,724.2 L553.4,724.1 L554.7,723.9 L556.0,723.8 L557.3,723.6 L558.6,723.5 L559.9,723.3 L561.2,723.1 L562.5,723.0 L563.8,722.8 L565.1,722.7 L566.4,722.5 L567.7,722.3 L568.9,722.2 L570.2,722.0 L571.5,721.8 L572.8,721.7 L574.1,721.5 L575.4,721.3 L576.7,721.2 L578.0,721.0 L579.3,720.8 L580.6,720.7 L581.9,720.5 L583.2,720.3 L584.5,720.1 L585.8,719.9 L587.1,719.8 L588.4,719.6 L589.7,719.4 L591.0,719.2 L592.3,719.0 L593.6,718.8 L594.9,718.6 L596.2,718.4 L597.5,718.2 L598.8,718.0 L600.1,717.8 L601.4,717.6 L602.7,717.4 L604.0,717.2 L605.3,716.9 L606.6,716.7 L607.8,716.5 L609.1,716.2 L610.4,716.0 L611.7,715.7 L613.0,715.5 L614.3,715.2 L615.6,714.9 L616.9,714.7 L618.2,714.4 L619.5,714.1 L620.8,713.8 L622.1,713.4 L623.4,713.1 L624.7,712.7 L626.0,712.4 L627.3,712.0 L628.6,711.5 L629.9,711.1 L631.2,710.6 L632.5,710.0 L633.8,709.5 L635.1,708.8 L636.4,708.0 L637.7,707.1 L639.0,705.9 L639.0,705.8 L639.6,705.2 L640.0,704.6 L640.3,704.1 L640.6,703.5 L640.8,703.1 L641.0,702.6 L641.1,702.2 L641.2,701.8 L641.3,701.4 L641.3,701.0 L641.4,700.7 L641.4,700.4 L641.5,700.1 L641.5,699.8 L641.5,699.5 L641.5,699.3 L641.6,699.0 L641.6,698.8 L641.6,698.6 L641.6,698.4 L641.6,698.2 L641.6,698.1 L641.6,697.9 L641.6,697.8 L641.6,697.6 L641.6,697.5 L641.6,697.4 L641.6,697.3 L641.6,697.1 L641.6,697.0 L641.6,696.9 L641.6,696.9 L641.6,696.8 L641.6,696.7 L641.6,696.6 L641.6,696.6 L641.6,696.5 L641.6,696.4 L641.6,696.4 L641.6,696.3 L641.6,696.3 L641.6,696.2 L641.6,696.2 L641.6,696.1 L641.6,696.1 L641.6,696.1 L641.6,696.0 L641.6,696.0 L641.6,696.0 L641.6,695.9 L641.6,695.9 L641.6,695.9 L641.6,695.9 L641.6,695.8 L641.6,695.8 L641.6,695.8 L641.6,695.8 L641.6,695.8 L641.6,695.7 L641.6,695.7 L641.6,695.7 L641.6,695.7 L641.6,695.7 L641.6,695.7 L641.6,695.7 L641.6,695.7 L641.6,695.6 L641.6,695.6 L641.6,695.6 L641.6,695.6 L641.6,695.6 L641.6,695.6 L641.6,695.6 L641.6,695.6 L641.6,695.6 L641.6,695.6 L641.6,695.6 L641.6,695.6 L641.6,695.6 L641.6,695.6 L641.6,695.6 L641.6,695.6 L641.6,695.6 L641.6,695.5 L641.6,695.5 L641.6,695.5 L641.6,695.5 L641.6,695.5 L641.6,695.5 L641.6,695.5 L641.6,695.5 L641.6,695.5 L641.6,695.5 L641.6,695.5 L641.6,695.5 L641.6,695.5 L641.6,695.5 L641.6,695.5 L641.6,695.5 L641.6,695.5 L641.6,695.5 L641.6,695.5 L641.6,695.5 L641.6,695.5 L641.6,695.5 L641.6,695.5 L641.6,695.5 L641.6,695.5 L641.6,695.5 L641.6,695.5 L641.6,695.5 L641.6,695.5 L641.6,695.5 L641.6,695.5 L641.6,695.5 L641.6,695.5 L641.6,695.5 L641.6,695.5 L641.6,695.5" fill="none" stroke="#1a1a1a" stroke-width="1.25"/>
<rect x="529.1" y="861.5" width="108.29999999999995" height="93.20000000000005" fill="#fff" stroke="#555" stroke-width="1"/>
<g font-size="8.2" fill="#2a2a2a">
<text x="548.3000000000001" y="874.8" textLength="47.08" lengthAdjust="spacingAndGlyphs">Observed Data</text>
<text x="548.3000000000001" y="888.2" textLength="80.53" lengthAdjust="spacingAndGlyphs">Summary Operating Point</text>
<text x="548.3000000000001" y="894.7" textLength="79.96" lengthAdjust="spacingAndGlyphs">SENS = 0.78 [0.73 - 0.82]</text>
<text x="548.3000000000001" y="901.8" textLength="79.96" lengthAdjust="spacingAndGlyphs">SPEC = 0.91 [0.83 - 0.95]</text>
<text x="548.3000000000001" y="912.0" textLength="40.84" lengthAdjust="spacingAndGlyphs">SROC Curve</text>
<text x="548.3000000000001" y="918.6" textLength="75.68" lengthAdjust="spacingAndGlyphs">AUC = 0.86 [0.83 - 0.89]</text>
<text x="548.3000000000001" y="932.1" textLength="78.21" lengthAdjust="spacingAndGlyphs">95% Confidence Contour</text>
<text x="548.3000000000001" y="946.6" textLength="73.93" lengthAdjust="spacingAndGlyphs">95% Prediction Contour</text>
</g>
<circle cx="537.8000000000001" cy="872.6" r="3.4" fill="none" stroke="#111" stroke-width="1.2"/>
<path d="M537.8000000000001,888.0 L542.2,892.4 L537.8000000000001,896.8 L533.4000000000001,892.4Z" fill="#9a3843"/>
<path d="M535.1,912.5 L540.5000000000001,912.5" stroke="#111" stroke-width="1.2"/>
<path d="M535.1,929.6 L540.5000000000001,929.6" stroke="#666" stroke-width="0.9"/>
</svg>
</body></html>
